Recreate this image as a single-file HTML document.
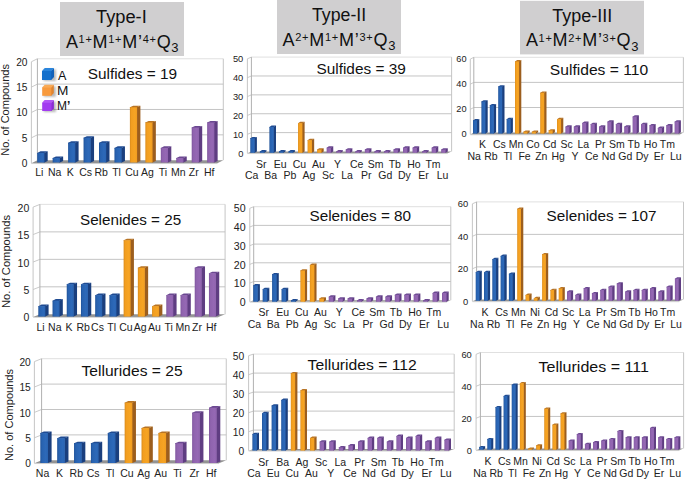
<!DOCTYPE html>
<html><head><meta charset="utf-8"><style>
html,body{margin:0;padding:0;background:#fff;}
svg{display:block;}
text{font-family:"Liberation Sans",sans-serif;fill:#1a1a1a;}
.tk{fill:#222;}
.xl{font-size:10.5px;fill:#222;}
.tt{font-size:15.5px;fill:#111;}
.yt{font-size:11px;fill:#222;}
.lg{font-size:12px;fill:#111;}
.hd{font-size:18px;fill:#111;}
.sup{font-size:11px;}
.sub{font-size:13px;}
</style></head><body>
<svg width="685" height="480" viewBox="0 0 685 480">
<defs>
<linearGradient id="gB" x1="0" y1="0" x2="1" y2="0"><stop offset="0" stop-color="#1f5299"/><stop offset="0.22" stop-color="#2862b0"/><stop offset="0.7" stop-color="#2d69b9"/><stop offset="1" stop-color="#2a63b0"/></linearGradient>
<linearGradient id="gO" x1="0" y1="0" x2="1" y2="0"><stop offset="0" stop-color="#d98b1c"/><stop offset="0.22" stop-color="#f29e20"/><stop offset="0.7" stop-color="#f6a424"/><stop offset="1" stop-color="#f09c20"/></linearGradient>
<linearGradient id="gP" x1="0" y1="0" x2="1" y2="0"><stop offset="0" stop-color="#7e559d"/><stop offset="0.22" stop-color="#8f63ae"/><stop offset="0.7" stop-color="#9568b4"/><stop offset="1" stop-color="#8e62ad"/></linearGradient>
<filter id="sh" x="-50%" y="-50%" width="200%" height="200%"><feGaussianBlur stdDeviation="0.9"/></filter></defs>
<rect width="685" height="480" fill="#fff"/>
<rect x="60" y="2" width="124" height="54" fill="#d0cfd0"/><text x="96" y="22.9" class="hd" textLength="50.8" lengthAdjust="spacingAndGlyphs">Type-I</text><text x="65.9" y="47.7" class="hd" textLength="112.7" lengthAdjust="spacing">A<tspan class="sup" dy="-4.8">1+</tspan><tspan dy="4.8">M</tspan><tspan class="sup" dy="-4.8">1+</tspan><tspan dy="4.8">M’</tspan><tspan class="sup" dy="-4.8">4+</tspan><tspan dy="4.8">Q</tspan><tspan class="sub" dy="4.5">3</tspan></text>
<rect x="277" y="0" width="124" height="54" fill="#d0cfd0"/><text x="312" y="20.9" class="hd" textLength="54.2" lengthAdjust="spacingAndGlyphs">Type-II</text><text x="282.5" y="45.9" class="hd" textLength="113" lengthAdjust="spacing">A<tspan class="sup" dy="-4.8">2+</tspan><tspan dy="4.8">M</tspan><tspan class="sup" dy="-4.8">1+</tspan><tspan dy="4.8">M’</tspan><tspan class="sup" dy="-4.8">3+</tspan><tspan dy="4.8">Q</tspan><tspan class="sub" dy="4.5">3</tspan></text>
<rect x="520" y="0.8" width="124" height="53.6" fill="#d0cfd0"/><text x="552.3" y="22" class="hd" textLength="59.9" lengthAdjust="spacingAndGlyphs">Type-III</text><text x="525.9" y="46.4" class="hd" textLength="112.6" lengthAdjust="spacing">A<tspan class="sup" dy="-4.8">1+</tspan><tspan dy="4.8">M</tspan><tspan class="sup" dy="-4.8">2+</tspan><tspan dy="4.8">M’</tspan><tspan class="sup" dy="-4.8">3+</tspan><tspan dy="4.8">Q</tspan><tspan class="sub" dy="4.5">3</tspan></text>
<polygon points="31.4,163.2 37.4,160.2 223.3,160.2 217.3,163.2" fill="#939393"/>
<line x1="31.4" y1="163.55" x2="217.3" y2="163.55" stroke="#c6c6c6" stroke-width="0.8"/>
<line x1="37.4" y1="134.84" x2="223.3" y2="134.84" stroke="#bdbdbd" stroke-width="0.9"/>
<line x1="31.4" y1="137.84" x2="37.4" y2="134.84" stroke="#c4c4c4" stroke-width="0.9"/>
<line x1="37.4" y1="109.47" x2="223.3" y2="109.47" stroke="#bdbdbd" stroke-width="0.9"/>
<line x1="31.4" y1="112.47" x2="37.4" y2="109.47" stroke="#c4c4c4" stroke-width="0.9"/>
<line x1="37.4" y1="84.11" x2="223.3" y2="84.11" stroke="#bdbdbd" stroke-width="0.9"/>
<line x1="31.4" y1="87.11" x2="37.4" y2="84.11" stroke="#c4c4c4" stroke-width="0.9"/>
<line x1="37.4" y1="58.75" x2="223.3" y2="58.75" stroke="#dcdcdc" stroke-width="0.9"/>
<line x1="31.4" y1="61.75" x2="37.4" y2="58.75" stroke="#c4c4c4" stroke-width="0.9"/>
<line x1="37.4" y1="58.75" x2="37.4" y2="160.2" stroke="#b0b0b0" stroke-width="1"/>
<line x1="31.4" y1="61.75" x2="31.4" y2="163.2" stroke="#c0c0c0" stroke-width="0.9"/>
<line x1="223.3" y1="58.75" x2="223.3" y2="160.2" stroke="#c0c0c0" stroke-width="0.9"/>
<text x="27.5" y="166.95" text-anchor="end" class="tk" font-size="10.2">0</text>
<text x="27.5" y="141.59" text-anchor="end" class="tk" font-size="10.2">5</text>
<text x="27.5" y="116.23" text-anchor="end" class="tk" font-size="10.2">10</text>
<text x="27.5" y="90.86" text-anchor="end" class="tk" font-size="10.2">15</text>
<text x="27.5" y="65.5" text-anchor="end" class="tk" font-size="10.2">20</text>
<text x="87.7" y="79" class="tt" textLength="89.3" lengthAdjust="spacingAndGlyphs">Sulfides = 19</text>
<polygon points="43.8,153.56 43.8,152.96 47.7,151.36 47.7,160.9 44.4,162.5 43.8,162.5" fill="#1a3f7e"/>
<polygon points="37.2,153.56 37.2,152.96 40.5,151.36 47.7,151.36 44.4,152.96 44.4,153.56" fill="#1f4b92"/>
<rect x="37.2" y="152.96" width="7.2" height="9.54" fill="url(#gB)"/>
<text x="39.3" y="176.35" text-anchor="middle" class="xl">Li</text>
<polygon points="59.25,158.63 59.25,158.03 63.15,156.43 63.15,160.9 59.85,162.5 59.25,162.5" fill="#1a3f7e"/>
<polygon points="52.65,158.63 52.65,158.03 55.95,156.43 63.15,156.43 59.85,158.03 59.85,158.63" fill="#1f4b92"/>
<rect x="52.65" y="158.03" width="7.2" height="4.47" fill="url(#gB)"/>
<text x="54.75" y="176.35" text-anchor="middle" class="xl">Na</text>
<polygon points="74.7,143.41 74.7,142.81 78.6,141.21 78.6,160.9 75.3,162.5 74.7,162.5" fill="#1a3f7e"/>
<polygon points="68.1,143.41 68.1,142.81 71.4,141.21 78.6,141.21 75.3,142.81 75.3,143.41" fill="#1f4b92"/>
<rect x="68.1" y="142.81" width="7.2" height="19.69" fill="url(#gB)"/>
<text x="70.2" y="176.35" text-anchor="middle" class="xl">K</text>
<polygon points="90.15,138.34 90.15,137.74 94.05,136.14 94.05,160.9 90.75,162.5 90.15,162.5" fill="#1a3f7e"/>
<polygon points="83.55,138.34 83.55,137.74 86.85,136.14 94.05,136.14 90.75,137.74 90.75,138.34" fill="#1f4b92"/>
<rect x="83.55" y="137.74" width="7.2" height="24.76" fill="url(#gB)"/>
<text x="85.65" y="176.35" text-anchor="middle" class="xl">Cs</text>
<polygon points="105.6,143.41 105.6,142.81 109.5,141.21 109.5,160.9 106.2,162.5 105.6,162.5" fill="#1a3f7e"/>
<polygon points="99,143.41 99,142.81 102.3,141.21 109.5,141.21 106.2,142.81 106.2,143.41" fill="#1f4b92"/>
<rect x="99" y="142.81" width="7.2" height="19.69" fill="url(#gB)"/>
<text x="101.1" y="176.35" text-anchor="middle" class="xl">Rb</text>
<polygon points="121.05,148.48 121.05,147.88 124.95,146.28 124.95,160.9 121.65,162.5 121.05,162.5" fill="#1a3f7e"/>
<polygon points="114.45,148.48 114.45,147.88 117.75,146.28 124.95,146.28 121.65,147.88 121.65,148.48" fill="#1f4b92"/>
<rect x="114.45" y="147.88" width="7.2" height="14.62" fill="url(#gB)"/>
<text x="116.55" y="176.35" text-anchor="middle" class="xl">Tl</text>
<polygon points="136.5,107.9 136.5,107.3 140.4,105.7 140.4,160.9 137.1,162.5 136.5,162.5" fill="#9c5e1e"/>
<polygon points="129.9,107.9 129.9,107.3 133.2,105.7 140.4,105.7 137.1,107.3 137.1,107.9" fill="#b87424"/>
<rect x="129.9" y="107.3" width="7.2" height="55.2" fill="url(#gO)"/>
<text x="132" y="176.35" text-anchor="middle" class="xl">Cu</text>
<polygon points="151.95,123.12 151.95,122.52 155.85,120.92 155.85,160.9 152.55,162.5 151.95,162.5" fill="#9c5e1e"/>
<polygon points="145.35,123.12 145.35,122.52 148.65,120.92 155.85,120.92 152.55,122.52 152.55,123.12" fill="#b87424"/>
<rect x="145.35" y="122.52" width="7.2" height="39.98" fill="url(#gO)"/>
<text x="147.45" y="176.35" text-anchor="middle" class="xl">Ag</text>
<polygon points="167.4,148.48 167.4,147.88 171.3,146.28 171.3,160.9 168,162.5 167.4,162.5" fill="#5f3d82"/>
<polygon points="160.8,148.48 160.8,147.88 164.1,146.28 171.3,146.28 168,147.88 168,148.48" fill="#6b4891"/>
<rect x="160.8" y="147.88" width="7.2" height="14.62" fill="url(#gP)"/>
<text x="162.9" y="176.35" text-anchor="middle" class="xl">Ti</text>
<polygon points="182.85,158.63 182.85,158.03 186.75,156.43 186.75,160.9 183.45,162.5 182.85,162.5" fill="#5f3d82"/>
<polygon points="176.25,158.63 176.25,158.03 179.55,156.43 186.75,156.43 183.45,158.03 183.45,158.63" fill="#6b4891"/>
<rect x="176.25" y="158.03" width="7.2" height="4.47" fill="url(#gP)"/>
<text x="178.35" y="176.35" text-anchor="middle" class="xl">Mn</text>
<polygon points="198.3,128.19 198.3,127.59 202.2,125.99 202.2,160.9 198.9,162.5 198.3,162.5" fill="#5f3d82"/>
<polygon points="191.7,128.19 191.7,127.59 195,125.99 202.2,125.99 198.9,127.59 198.9,128.19" fill="#6b4891"/>
<rect x="191.7" y="127.59" width="7.2" height="34.91" fill="url(#gP)"/>
<text x="193.8" y="176.35" text-anchor="middle" class="xl">Zr</text>
<polygon points="213.75,123.12 213.75,122.52 217.65,120.92 217.65,160.9 214.35,162.5 213.75,162.5" fill="#5f3d82"/>
<polygon points="207.15,123.12 207.15,122.52 210.45,120.92 217.65,120.92 214.35,122.52 214.35,123.12" fill="#6b4891"/>
<rect x="207.15" y="122.52" width="7.2" height="39.98" fill="url(#gP)"/>
<text x="209.25" y="176.35" text-anchor="middle" class="xl">Hf</text>
<polygon points="247.4,153.2 251.4,151.5 451.6,151.5 447.6,153.2" fill="#939393"/>
<line x1="247.4" y1="153.55" x2="447.6" y2="153.55" stroke="#c6c6c6" stroke-width="0.8"/>
<line x1="251.4" y1="132.62" x2="451.6" y2="132.62" stroke="#bdbdbd" stroke-width="0.9"/>
<line x1="247.4" y1="134.32" x2="251.4" y2="132.62" stroke="#c4c4c4" stroke-width="0.9"/>
<line x1="251.4" y1="113.74" x2="451.6" y2="113.74" stroke="#bdbdbd" stroke-width="0.9"/>
<line x1="247.4" y1="115.44" x2="251.4" y2="113.74" stroke="#c4c4c4" stroke-width="0.9"/>
<line x1="251.4" y1="94.86" x2="451.6" y2="94.86" stroke="#bdbdbd" stroke-width="0.9"/>
<line x1="247.4" y1="96.56" x2="251.4" y2="94.86" stroke="#c4c4c4" stroke-width="0.9"/>
<line x1="251.4" y1="75.98" x2="451.6" y2="75.98" stroke="#bdbdbd" stroke-width="0.9"/>
<line x1="247.4" y1="77.68" x2="251.4" y2="75.98" stroke="#c4c4c4" stroke-width="0.9"/>
<line x1="251.4" y1="57.1" x2="451.6" y2="57.1" stroke="#dcdcdc" stroke-width="0.9"/>
<line x1="247.4" y1="58.8" x2="251.4" y2="57.1" stroke="#c4c4c4" stroke-width="0.9"/>
<line x1="251.4" y1="57.1" x2="251.4" y2="151.5" stroke="#b0b0b0" stroke-width="1"/>
<line x1="247.4" y1="58.8" x2="247.4" y2="153.2" stroke="#c0c0c0" stroke-width="0.9"/>
<line x1="451.6" y1="57.1" x2="451.6" y2="151.5" stroke="#c0c0c0" stroke-width="0.9"/>
<text x="243.3" y="156.63" text-anchor="end" class="tk" font-size="9.3">0</text>
<text x="243.3" y="137.75" text-anchor="end" class="tk" font-size="9.3">10</text>
<text x="243.3" y="118.87" text-anchor="end" class="tk" font-size="9.3">20</text>
<text x="243.3" y="99.99" text-anchor="end" class="tk" font-size="9.3">30</text>
<text x="243.3" y="81.11" text-anchor="end" class="tk" font-size="9.3">40</text>
<text x="243.3" y="62.23" text-anchor="end" class="tk" font-size="9.3">50</text>
<text x="316.4" y="73.9" class="tt" textLength="89.4" lengthAdjust="spacingAndGlyphs">Sulfides = 39</text>
<polygon points="254.1,138.9 254.1,138.3 256.9,136.9 256.9,151.4 254.7,152.8 254.1,152.8" fill="#1a3f7e"/>
<polygon points="250.3,138.9 250.3,138.3 252.5,136.9 256.9,136.9 254.7,138.3 254.7,138.9" fill="#1f4b92"/>
<rect x="250.3" y="138.3" width="4.4" height="14.5" fill="url(#gB)"/>
<text x="251.65" y="179.1" text-anchor="middle" class="xl">Ca</text>
<polygon points="263.64,152.11 263.64,151.51 266.44,150.11 266.44,151.4 264.25,152.8 263.64,152.8" fill="#1a3f7e"/>
<polygon points="259.85,152.11 259.85,151.51 262.05,150.11 266.44,150.11 264.25,151.51 264.25,152.11" fill="#1f4b92"/>
<rect x="259.85" y="151.51" width="4.4" height="1.29" fill="url(#gB)"/>
<text x="261.19" y="167.7" text-anchor="middle" class="xl">Sr</text>
<polygon points="273.19,127.57 273.19,126.97 275.99,125.57 275.99,151.4 273.79,152.8 273.19,152.8" fill="#1a3f7e"/>
<polygon points="269.39,127.57 269.39,126.97 271.59,125.57 275.99,125.57 273.79,126.97 273.79,127.57" fill="#1f4b92"/>
<rect x="269.39" y="126.97" width="4.4" height="25.83" fill="url(#gB)"/>
<text x="270.74" y="179.1" text-anchor="middle" class="xl">Ba</text>
<polygon points="282.73,152.11 282.73,151.51 285.53,150.11 285.53,151.4 283.33,152.8 282.73,152.8" fill="#1a3f7e"/>
<polygon points="278.94,152.11 278.94,151.51 281.13,150.11 285.53,150.11 283.33,151.51 283.33,152.11" fill="#1f4b92"/>
<rect x="278.94" y="151.51" width="4.4" height="1.29" fill="url(#gB)"/>
<text x="280.28" y="167.7" text-anchor="middle" class="xl">Eu</text>
<polygon points="292.28,152.11 292.28,151.51 295.08,150.11 295.08,151.4 292.88,152.8 292.28,152.8" fill="#1a3f7e"/>
<polygon points="288.48,152.11 288.48,151.51 290.68,150.11 295.08,150.11 292.88,151.51 292.88,152.11" fill="#1f4b92"/>
<rect x="288.48" y="151.51" width="4.4" height="1.29" fill="url(#gB)"/>
<text x="289.83" y="179.1" text-anchor="middle" class="xl">Pb</text>
<polygon points="301.82,123.79 301.82,123.19 304.62,121.79 304.62,151.4 302.43,152.8 301.82,152.8" fill="#9c5e1e"/>
<polygon points="298.03,123.79 298.03,123.19 300.23,121.79 304.62,121.79 302.43,123.19 302.43,123.79" fill="#b87424"/>
<rect x="298.03" y="123.19" width="4.4" height="29.61" fill="url(#gO)"/>
<text x="299.38" y="167.7" text-anchor="middle" class="xl">Cu</text>
<polygon points="311.37,140.78 311.37,140.18 314.17,138.78 314.17,151.4 311.97,152.8 311.37,152.8" fill="#9c5e1e"/>
<polygon points="307.57,140.78 307.57,140.18 309.77,138.78 314.17,138.78 311.97,140.18 311.97,140.78" fill="#b87424"/>
<rect x="307.57" y="140.18" width="4.4" height="12.62" fill="url(#gO)"/>
<text x="308.92" y="179.1" text-anchor="middle" class="xl">Ag</text>
<polygon points="320.91,150.22 320.91,149.62 323.71,148.22 323.71,151.4 321.51,152.8 320.91,152.8" fill="#9c5e1e"/>
<polygon points="317.12,150.22 317.12,149.62 319.31,148.22 323.71,148.22 321.51,149.62 321.51,150.22" fill="#b87424"/>
<rect x="317.12" y="149.62" width="4.4" height="3.18" fill="url(#gO)"/>
<text x="318.46" y="167.7" text-anchor="middle" class="xl">Au</text>
<polygon points="330.46,148.34 330.46,147.74 333.26,146.34 333.26,151.4 331.06,152.8 330.46,152.8" fill="#5f3d82"/>
<polygon points="326.66,148.34 326.66,147.74 328.86,146.34 333.26,146.34 331.06,147.74 331.06,148.34" fill="#6b4891"/>
<rect x="326.66" y="147.74" width="4.4" height="5.06" fill="url(#gP)"/>
<text x="328.01" y="179.1" text-anchor="middle" class="xl">Sc</text>
<polygon points="340,152.11 340,151.51 342.81,150.11 342.81,151.4 340.61,152.8 340,152.8" fill="#5f3d82"/>
<polygon points="336.21,152.11 336.21,151.51 338.41,150.11 342.81,150.11 340.61,151.51 340.61,152.11" fill="#6b4891"/>
<rect x="336.21" y="151.51" width="4.4" height="1.29" fill="url(#gP)"/>
<text x="337.56" y="167.7" text-anchor="middle" class="xl">Y</text>
<polygon points="349.55,150.22 349.55,149.62 352.35,148.22 352.35,151.4 350.15,152.8 349.55,152.8" fill="#5f3d82"/>
<polygon points="345.75,150.22 345.75,149.62 347.95,148.22 352.35,148.22 350.15,149.62 350.15,150.22" fill="#6b4891"/>
<rect x="345.75" y="149.62" width="4.4" height="3.18" fill="url(#gP)"/>
<text x="347.1" y="179.1" text-anchor="middle" class="xl">La</text>
<polygon points="359.09,152.11 359.09,151.51 361.89,150.11 361.89,151.4 359.69,152.8 359.09,152.8" fill="#5f3d82"/>
<polygon points="355.3,152.11 355.3,151.51 357.5,150.11 361.89,150.11 359.69,151.51 359.69,152.11" fill="#6b4891"/>
<rect x="355.3" y="151.51" width="4.4" height="1.29" fill="url(#gP)"/>
<text x="356.64" y="167.7" text-anchor="middle" class="xl">Ce</text>
<polygon points="368.64,150.22 368.64,149.62 371.44,148.22 371.44,151.4 369.24,152.8 368.64,152.8" fill="#5f3d82"/>
<polygon points="364.84,150.22 364.84,149.62 367.04,148.22 371.44,148.22 369.24,149.62 369.24,150.22" fill="#6b4891"/>
<rect x="364.84" y="149.62" width="4.4" height="3.18" fill="url(#gP)"/>
<text x="366.19" y="179.1" text-anchor="middle" class="xl">Pr</text>
<polygon points="378.18,152.11 378.18,151.51 380.98,150.11 380.98,151.4 378.78,152.8 378.18,152.8" fill="#5f3d82"/>
<polygon points="374.38,152.11 374.38,151.51 376.58,150.11 380.98,150.11 378.78,151.51 378.78,152.11" fill="#6b4891"/>
<rect x="374.38" y="151.51" width="4.4" height="1.29" fill="url(#gP)"/>
<text x="375.73" y="167.7" text-anchor="middle" class="xl">Sm</text>
<polygon points="387.73,152.11 387.73,151.51 390.53,150.11 390.53,151.4 388.33,152.8 387.73,152.8" fill="#5f3d82"/>
<polygon points="383.93,152.11 383.93,151.51 386.13,150.11 390.53,150.11 388.33,151.51 388.33,152.11" fill="#6b4891"/>
<rect x="383.93" y="151.51" width="4.4" height="1.29" fill="url(#gP)"/>
<text x="385.28" y="179.1" text-anchor="middle" class="xl">Gd</text>
<polygon points="397.27,150.22 397.27,149.62 400.07,148.22 400.07,151.4 397.88,152.8 397.27,152.8" fill="#5f3d82"/>
<polygon points="393.48,150.22 393.48,149.62 395.68,148.22 400.07,148.22 397.88,149.62 397.88,150.22" fill="#6b4891"/>
<rect x="393.48" y="149.62" width="4.4" height="3.18" fill="url(#gP)"/>
<text x="394.82" y="167.7" text-anchor="middle" class="xl">Tb</text>
<polygon points="406.82,148.34 406.82,147.74 409.62,146.34 409.62,151.4 407.42,152.8 406.82,152.8" fill="#5f3d82"/>
<polygon points="403.02,148.34 403.02,147.74 405.22,146.34 409.62,146.34 407.42,147.74 407.42,148.34" fill="#6b4891"/>
<rect x="403.02" y="147.74" width="4.4" height="5.06" fill="url(#gP)"/>
<text x="404.37" y="179.1" text-anchor="middle" class="xl">Dy</text>
<polygon points="416.36,148.34 416.36,147.74 419.16,146.34 419.16,151.4 416.96,152.8 416.36,152.8" fill="#5f3d82"/>
<polygon points="412.56,148.34 412.56,147.74 414.76,146.34 419.16,146.34 416.96,147.74 416.96,148.34" fill="#6b4891"/>
<rect x="412.56" y="147.74" width="4.4" height="5.06" fill="url(#gP)"/>
<text x="413.91" y="167.7" text-anchor="middle" class="xl">Ho</text>
<polygon points="425.91,152.11 425.91,151.51 428.71,150.11 428.71,151.4 426.51,152.8 425.91,152.8" fill="#5f3d82"/>
<polygon points="422.11,152.11 422.11,151.51 424.31,150.11 428.71,150.11 426.51,151.51 426.51,152.11" fill="#6b4891"/>
<rect x="422.11" y="151.51" width="4.4" height="1.29" fill="url(#gP)"/>
<text x="423.46" y="179.1" text-anchor="middle" class="xl">Er</text>
<polygon points="435.45,148.34 435.45,147.74 438.25,146.34 438.25,151.4 436.05,152.8 435.45,152.8" fill="#5f3d82"/>
<polygon points="431.65,148.34 431.65,147.74 433.85,146.34 438.25,146.34 436.05,147.74 436.05,148.34" fill="#6b4891"/>
<rect x="431.65" y="147.74" width="4.4" height="5.06" fill="url(#gP)"/>
<text x="433" y="167.7" text-anchor="middle" class="xl">Tm</text>
<polygon points="445,150.22 445,149.62 447.8,148.22 447.8,151.4 445.6,152.8 445,152.8" fill="#5f3d82"/>
<polygon points="441.2,150.22 441.2,149.62 443.4,148.22 447.8,148.22 445.6,149.62 445.6,150.22" fill="#6b4891"/>
<rect x="441.2" y="149.62" width="4.4" height="3.18" fill="url(#gP)"/>
<text x="442.55" y="179.1" text-anchor="middle" class="xl">Lu</text>
<polygon points="470.3,134.4 473.8,132.6 683.4,132.6 679.9,134.4" fill="#939393"/>
<line x1="470.3" y1="134.75" x2="679.9" y2="134.75" stroke="#c6c6c6" stroke-width="0.8"/>
<line x1="473.8" y1="107.5" x2="683.4" y2="107.5" stroke="#bdbdbd" stroke-width="0.9"/>
<line x1="470.3" y1="109.3" x2="473.8" y2="107.5" stroke="#c4c4c4" stroke-width="0.9"/>
<line x1="473.8" y1="82.4" x2="683.4" y2="82.4" stroke="#bdbdbd" stroke-width="0.9"/>
<line x1="470.3" y1="84.2" x2="473.8" y2="82.4" stroke="#c4c4c4" stroke-width="0.9"/>
<line x1="473.8" y1="57.3" x2="683.4" y2="57.3" stroke="#dcdcdc" stroke-width="0.9"/>
<line x1="470.3" y1="59.1" x2="473.8" y2="57.3" stroke="#c4c4c4" stroke-width="0.9"/>
<line x1="473.8" y1="57.3" x2="473.8" y2="132.6" stroke="#b0b0b0" stroke-width="1"/>
<line x1="470.3" y1="59.1" x2="470.3" y2="134.4" stroke="#c0c0c0" stroke-width="0.9"/>
<line x1="683.4" y1="57.3" x2="683.4" y2="132.6" stroke="#c0c0c0" stroke-width="0.9"/>
<text x="466.5" y="137.19" text-anchor="end" class="tk" font-size="9.2">0</text>
<text x="466.5" y="112.09" text-anchor="end" class="tk" font-size="9.2">20</text>
<text x="466.5" y="86.99" text-anchor="end" class="tk" font-size="9.2">40</text>
<text x="466.5" y="61.89" text-anchor="end" class="tk" font-size="9.2">60</text>
<text x="549.8" y="75.1" class="tt" textLength="98.3" lengthAdjust="spacingAndGlyphs">Sulfides = 110</text>
<polygon points="476.5,120.99 476.5,120.39 479.3,119.09 479.3,132.3 477.1,133.6 476.5,133.6" fill="#1a3f7e"/>
<polygon points="473,120.99 473,120.39 475.2,119.09 479.3,119.09 477.1,120.39 477.1,120.99" fill="#1f4b92"/>
<rect x="473" y="120.39" width="4.1" height="13.21" fill="url(#gB)"/>
<text x="474.15" y="159.5" text-anchor="middle" class="xl">Na</text>
<polygon points="484.9,102.17 484.9,101.57 487.7,100.27 487.7,132.3 485.5,133.6 484.9,133.6" fill="#1a3f7e"/>
<polygon points="481.4,102.17 481.4,101.57 483.6,100.27 487.7,100.27 485.5,101.57 485.5,102.17" fill="#1f4b92"/>
<rect x="481.4" y="101.57" width="4.1" height="32.03" fill="url(#gB)"/>
<text x="482.55" y="147.6" text-anchor="middle" class="xl">K</text>
<polygon points="493.3,105.93 493.3,105.33 496.1,104.03 496.1,132.3 493.9,133.6 493.3,133.6" fill="#1a3f7e"/>
<polygon points="489.8,105.93 489.8,105.33 492,104.03 496.1,104.03 493.9,105.33 493.9,105.93" fill="#1f4b92"/>
<rect x="489.8" y="105.33" width="4.1" height="28.26" fill="url(#gB)"/>
<text x="490.95" y="159.5" text-anchor="middle" class="xl">Rb</text>
<polygon points="501.7,87.11 501.7,86.51 504.5,85.21 504.5,132.3 502.3,133.6 501.7,133.6" fill="#1a3f7e"/>
<polygon points="498.2,87.11 498.2,86.51 500.4,85.21 504.5,85.21 502.3,86.51 502.3,87.11" fill="#1f4b92"/>
<rect x="498.2" y="86.51" width="4.1" height="47.09" fill="url(#gB)"/>
<text x="499.35" y="147.6" text-anchor="middle" class="xl">Cs</text>
<polygon points="510.1,119.74 510.1,119.14 512.9,117.84 512.9,132.3 510.7,133.6 510.1,133.6" fill="#1a3f7e"/>
<polygon points="506.6,119.74 506.6,119.14 508.8,117.84 512.9,117.84 510.7,119.14 510.7,119.74" fill="#1f4b92"/>
<rect x="506.6" y="119.14" width="4.1" height="14.46" fill="url(#gB)"/>
<text x="507.75" y="159.5" text-anchor="middle" class="xl">Tl</text>
<polygon points="518.5,62.01 518.5,61.41 521.3,60.11 521.3,132.3 519.1,133.6 518.5,133.6" fill="#9c5e1e"/>
<polygon points="515,62.01 515,61.41 517.2,60.11 521.3,60.11 519.1,61.41 519.1,62.01" fill="#b87424"/>
<rect x="515" y="61.41" width="4.1" height="72.19" fill="url(#gO)"/>
<text x="516.15" y="147.6" text-anchor="middle" class="xl">Mn</text>
<polygon points="526.9,132.29 526.9,131.69 529.7,130.39 529.7,132.3 527.5,133.6 526.9,133.6" fill="#9c5e1e"/>
<polygon points="523.4,132.29 523.4,131.69 525.6,130.39 529.7,130.39 527.5,131.69 527.5,132.29" fill="#b87424"/>
<rect x="523.4" y="131.69" width="4.1" height="1.91" fill="url(#gO)"/>
<text x="524.55" y="159.5" text-anchor="middle" class="xl">Fe</text>
<polygon points="535.3,132.29 535.3,131.69 538.1,130.39 538.1,132.3 535.9,133.6 535.3,133.6" fill="#9c5e1e"/>
<polygon points="531.8,132.29 531.8,131.69 534,130.39 538.1,130.39 535.9,131.69 535.9,132.29" fill="#b87424"/>
<rect x="531.8" y="131.69" width="4.1" height="1.91" fill="url(#gO)"/>
<text x="532.95" y="147.6" text-anchor="middle" class="xl">Co</text>
<polygon points="543.7,93.38 543.7,92.78 546.5,91.48 546.5,132.3 544.3,133.6 543.7,133.6" fill="#9c5e1e"/>
<polygon points="540.2,93.38 540.2,92.78 542.4,91.48 546.5,91.48 544.3,92.78 544.3,93.38" fill="#b87424"/>
<rect x="540.2" y="92.78" width="4.1" height="40.81" fill="url(#gO)"/>
<text x="541.35" y="159.5" text-anchor="middle" class="xl">Zn</text>
<polygon points="552.1,131.03 552.1,130.44 554.9,129.13 554.9,132.3 552.7,133.6 552.1,133.6" fill="#9c5e1e"/>
<polygon points="548.6,131.03 548.6,130.44 550.8,129.13 554.9,129.13 552.7,130.44 552.7,131.03" fill="#b87424"/>
<rect x="548.6" y="130.44" width="4.1" height="3.16" fill="url(#gO)"/>
<text x="549.75" y="147.6" text-anchor="middle" class="xl">Cd</text>
<polygon points="560.5,119.74 560.5,119.14 563.3,117.84 563.3,132.3 561.1,133.6 560.5,133.6" fill="#9c5e1e"/>
<polygon points="557,119.74 557,119.14 559.2,117.84 563.3,117.84 561.1,119.14 561.1,119.74" fill="#b87424"/>
<rect x="557" y="119.14" width="4.1" height="14.46" fill="url(#gO)"/>
<text x="558.15" y="159.5" text-anchor="middle" class="xl">Hg</text>
<polygon points="568.9,127.27 568.9,126.67 571.7,125.37 571.7,132.3 569.5,133.6 568.9,133.6" fill="#5f3d82"/>
<polygon points="565.4,127.27 565.4,126.67 567.6,125.37 571.7,125.37 569.5,126.67 569.5,127.27" fill="#6b4891"/>
<rect x="565.4" y="126.67" width="4.1" height="6.93" fill="url(#gP)"/>
<text x="566.55" y="147.6" text-anchor="middle" class="xl">Sc</text>
<polygon points="577.3,127.27 577.3,126.67 580.1,125.37 580.1,132.3 577.9,133.6 577.3,133.6" fill="#5f3d82"/>
<polygon points="573.8,127.27 573.8,126.67 576,125.37 580.1,125.37 577.9,126.67 577.9,127.27" fill="#6b4891"/>
<rect x="573.8" y="126.67" width="4.1" height="6.93" fill="url(#gP)"/>
<text x="574.95" y="159.5" text-anchor="middle" class="xl">Y</text>
<polygon points="585.7,123.5 585.7,122.91 588.5,121.61 588.5,132.3 586.3,133.6 585.7,133.6" fill="#5f3d82"/>
<polygon points="582.2,123.5 582.2,122.91 584.4,121.61 588.5,121.61 586.3,122.91 586.3,123.5" fill="#6b4891"/>
<rect x="582.2" y="122.91" width="4.1" height="10.69" fill="url(#gP)"/>
<text x="583.35" y="147.6" text-anchor="middle" class="xl">La</text>
<polygon points="594.1,124.76 594.1,124.16 596.9,122.86 596.9,132.3 594.7,133.6 594.1,133.6" fill="#5f3d82"/>
<polygon points="590.6,124.76 590.6,124.16 592.8,122.86 596.9,122.86 594.7,124.16 594.7,124.76" fill="#6b4891"/>
<rect x="590.6" y="124.16" width="4.1" height="9.44" fill="url(#gP)"/>
<text x="591.75" y="159.5" text-anchor="middle" class="xl">Ce</text>
<polygon points="602.5,127.27 602.5,126.67 605.3,125.37 605.3,132.3 603.1,133.6 602.5,133.6" fill="#5f3d82"/>
<polygon points="599,127.27 599,126.67 601.2,125.37 605.3,125.37 603.1,126.67 603.1,127.27" fill="#6b4891"/>
<rect x="599" y="126.67" width="4.1" height="6.93" fill="url(#gP)"/>
<text x="600.15" y="147.6" text-anchor="middle" class="xl">Pr</text>
<polygon points="610.9,122.25 610.9,121.65 613.7,120.35 613.7,132.3 611.5,133.6 610.9,133.6" fill="#5f3d82"/>
<polygon points="607.4,122.25 607.4,121.65 609.6,120.35 613.7,120.35 611.5,121.65 611.5,122.25" fill="#6b4891"/>
<rect x="607.4" y="121.65" width="4.1" height="11.95" fill="url(#gP)"/>
<text x="608.55" y="159.5" text-anchor="middle" class="xl">Nd</text>
<polygon points="619.3,124.76 619.3,124.16 622.1,122.86 622.1,132.3 619.9,133.6 619.3,133.6" fill="#5f3d82"/>
<polygon points="615.8,124.76 615.8,124.16 618,122.86 622.1,122.86 619.9,124.16 619.9,124.76" fill="#6b4891"/>
<rect x="615.8" y="124.16" width="4.1" height="9.44" fill="url(#gP)"/>
<text x="616.95" y="147.6" text-anchor="middle" class="xl">Sm</text>
<polygon points="627.7,127.27 627.7,126.67 630.5,125.37 630.5,132.3 628.3,133.6 627.7,133.6" fill="#5f3d82"/>
<polygon points="624.2,127.27 624.2,126.67 626.4,125.37 630.5,125.37 628.3,126.67 628.3,127.27" fill="#6b4891"/>
<rect x="624.2" y="126.67" width="4.1" height="6.93" fill="url(#gP)"/>
<text x="625.35" y="159.5" text-anchor="middle" class="xl">Gd</text>
<polygon points="636.1,117.23 636.1,116.63 638.9,115.33 638.9,132.3 636.7,133.6 636.1,133.6" fill="#5f3d82"/>
<polygon points="632.6,117.23 632.6,116.63 634.8,115.33 638.9,115.33 636.7,116.63 636.7,117.23" fill="#6b4891"/>
<rect x="632.6" y="116.63" width="4.1" height="16.97" fill="url(#gP)"/>
<text x="633.75" y="147.6" text-anchor="middle" class="xl">Tb</text>
<polygon points="644.5,124.76 644.5,124.16 647.3,122.86 647.3,132.3 645.1,133.6 644.5,133.6" fill="#5f3d82"/>
<polygon points="641,124.76 641,124.16 643.2,122.86 647.3,122.86 645.1,124.16 645.1,124.76" fill="#6b4891"/>
<rect x="641" y="124.16" width="4.1" height="9.44" fill="url(#gP)"/>
<text x="642.15" y="159.5" text-anchor="middle" class="xl">Dy</text>
<polygon points="652.9,126.01 652.9,125.41 655.7,124.11 655.7,132.3 653.5,133.6 652.9,133.6" fill="#5f3d82"/>
<polygon points="649.4,126.01 649.4,125.41 651.6,124.11 655.7,124.11 653.5,125.41 653.5,126.01" fill="#6b4891"/>
<rect x="649.4" y="125.41" width="4.1" height="8.19" fill="url(#gP)"/>
<text x="650.55" y="147.6" text-anchor="middle" class="xl">Ho</text>
<polygon points="661.3,128.53 661.3,127.92 664.1,126.62 664.1,132.3 661.9,133.6 661.3,133.6" fill="#5f3d82"/>
<polygon points="657.8,128.53 657.8,127.92 660,126.62 664.1,126.62 661.9,127.92 661.9,128.53" fill="#6b4891"/>
<rect x="657.8" y="127.92" width="4.1" height="5.67" fill="url(#gP)"/>
<text x="658.95" y="159.5" text-anchor="middle" class="xl">Er</text>
<polygon points="669.7,126.01 669.7,125.41 672.5,124.11 672.5,132.3 670.3,133.6 669.7,133.6" fill="#5f3d82"/>
<polygon points="666.2,126.01 666.2,125.41 668.4,124.11 672.5,124.11 670.3,125.41 670.3,126.01" fill="#6b4891"/>
<rect x="666.2" y="125.41" width="4.1" height="8.19" fill="url(#gP)"/>
<text x="667.35" y="147.6" text-anchor="middle" class="xl">Tm</text>
<polygon points="678.1,122.25 678.1,121.65 680.9,120.35 680.9,132.3 678.7,133.6 678.1,133.6" fill="#5f3d82"/>
<polygon points="674.6,122.25 674.6,121.65 676.8,120.35 680.9,120.35 678.7,121.65 678.7,122.25" fill="#6b4891"/>
<rect x="674.6" y="121.65" width="4.1" height="11.95" fill="url(#gP)"/>
<text x="675.75" y="159.5" text-anchor="middle" class="xl">Lu</text>
<polygon points="33.1,317 39.9,314.3 225.1,314.3 218.3,317" fill="#939393"/>
<line x1="33.1" y1="317.35" x2="218.3" y2="317.35" stroke="#c6c6c6" stroke-width="0.8"/>
<line x1="39.9" y1="286.82" x2="225.1" y2="286.82" stroke="#bdbdbd" stroke-width="0.9"/>
<line x1="33.1" y1="289.52" x2="39.9" y2="286.82" stroke="#c4c4c4" stroke-width="0.9"/>
<line x1="39.9" y1="259.35" x2="225.1" y2="259.35" stroke="#bdbdbd" stroke-width="0.9"/>
<line x1="33.1" y1="262.05" x2="39.9" y2="259.35" stroke="#c4c4c4" stroke-width="0.9"/>
<line x1="39.9" y1="231.88" x2="225.1" y2="231.88" stroke="#bdbdbd" stroke-width="0.9"/>
<line x1="33.1" y1="234.57" x2="39.9" y2="231.88" stroke="#c4c4c4" stroke-width="0.9"/>
<line x1="39.9" y1="204.4" x2="225.1" y2="204.4" stroke="#dcdcdc" stroke-width="0.9"/>
<line x1="33.1" y1="207.1" x2="39.9" y2="204.4" stroke="#c4c4c4" stroke-width="0.9"/>
<line x1="39.9" y1="204.4" x2="39.9" y2="314.3" stroke="#b0b0b0" stroke-width="1"/>
<line x1="33.1" y1="207.1" x2="33.1" y2="317" stroke="#c0c0c0" stroke-width="0.9"/>
<line x1="225.1" y1="204.4" x2="225.1" y2="314.3" stroke="#c0c0c0" stroke-width="0.9"/>
<text x="29.3" y="321.46" text-anchor="end" class="tk" font-size="10.5">0</text>
<text x="29.3" y="293.98" text-anchor="end" class="tk" font-size="10.5">5</text>
<text x="29.3" y="266.51" text-anchor="end" class="tk" font-size="10.5">10</text>
<text x="29.3" y="239.03" text-anchor="end" class="tk" font-size="10.5">15</text>
<text x="29.3" y="211.56" text-anchor="end" class="tk" font-size="10.5">20</text>
<text x="80" y="224.7" class="tt" textLength="101.1" lengthAdjust="spacingAndGlyphs">Selenides = 25</text>
<polygon points="44.7,306.81 44.7,306.21 48.6,304.61 48.6,315 45.3,316.6 44.7,316.6" fill="#1a3f7e"/>
<polygon points="38.3,306.81 38.3,306.21 41.6,304.61 48.6,304.61 45.3,306.21 45.3,306.81" fill="#1f4b92"/>
<rect x="38.3" y="306.21" width="7" height="10.39" fill="url(#gB)"/>
<text x="40.6" y="330.8" text-anchor="middle" class="xl">Li</text>
<polygon points="58.92,301.32 58.92,300.72 62.82,299.12 62.82,315 59.52,316.6 58.92,316.6" fill="#1a3f7e"/>
<polygon points="52.52,301.32 52.52,300.72 55.82,299.12 62.82,299.12 59.52,300.72 59.52,301.32" fill="#1f4b92"/>
<rect x="52.52" y="300.72" width="7" height="15.88" fill="url(#gB)"/>
<text x="54.82" y="330.8" text-anchor="middle" class="xl">Na</text>
<polygon points="73.14,284.83 73.14,284.23 77.04,282.63 77.04,315 73.74,316.6 73.14,316.6" fill="#1a3f7e"/>
<polygon points="66.74,284.83 66.74,284.23 70.04,282.63 77.04,282.63 73.74,284.23 73.74,284.83" fill="#1f4b92"/>
<rect x="66.74" y="284.23" width="7" height="32.37" fill="url(#gB)"/>
<text x="69.04" y="330.8" text-anchor="middle" class="xl">K</text>
<polygon points="87.36,284.83 87.36,284.23 91.26,282.63 91.26,315 87.96,316.6 87.36,316.6" fill="#1a3f7e"/>
<polygon points="80.96,284.83 80.96,284.23 84.26,282.63 91.26,282.63 87.96,284.23 87.96,284.83" fill="#1f4b92"/>
<rect x="80.96" y="284.23" width="7" height="32.37" fill="url(#gB)"/>
<text x="83.26" y="330.8" text-anchor="middle" class="xl">Rb</text>
<polygon points="101.58,295.82 101.58,295.22 105.48,293.62 105.48,315 102.18,316.6 101.58,316.6" fill="#1a3f7e"/>
<polygon points="95.18,295.82 95.18,295.22 98.48,293.62 105.48,293.62 102.18,295.22 102.18,295.82" fill="#1f4b92"/>
<rect x="95.18" y="295.22" width="7" height="21.38" fill="url(#gB)"/>
<text x="97.48" y="330.8" text-anchor="middle" class="xl">Cs</text>
<polygon points="115.8,295.82 115.8,295.22 119.7,293.62 119.7,315 116.4,316.6 115.8,316.6" fill="#1a3f7e"/>
<polygon points="109.4,295.82 109.4,295.22 112.7,293.62 119.7,293.62 116.4,295.22 116.4,295.82" fill="#1f4b92"/>
<rect x="109.4" y="295.22" width="7" height="21.38" fill="url(#gB)"/>
<text x="111.7" y="330.8" text-anchor="middle" class="xl">Tl</text>
<polygon points="130.02,240.87 130.02,240.27 133.92,238.67 133.92,315 130.62,316.6 130.02,316.6" fill="#9c5e1e"/>
<polygon points="123.62,240.87 123.62,240.27 126.92,238.67 133.92,238.67 130.62,240.27 130.62,240.87" fill="#b87424"/>
<rect x="123.62" y="240.27" width="7" height="76.33" fill="url(#gO)"/>
<text x="125.92" y="330.8" text-anchor="middle" class="xl">Cu</text>
<polygon points="144.24,268.35 144.24,267.75 148.14,266.14 148.14,315 144.84,316.6 144.24,316.6" fill="#9c5e1e"/>
<polygon points="137.84,268.35 137.84,267.75 141.14,266.14 148.14,266.14 144.84,267.75 144.84,268.35" fill="#b87424"/>
<rect x="137.84" y="267.75" width="7" height="48.85" fill="url(#gO)"/>
<text x="140.14" y="330.8" text-anchor="middle" class="xl">Ag</text>
<polygon points="158.46,306.81 158.46,306.21 162.36,304.61 162.36,315 159.06,316.6 158.46,316.6" fill="#9c5e1e"/>
<polygon points="152.06,306.81 152.06,306.21 155.36,304.61 162.36,304.61 159.06,306.21 159.06,306.81" fill="#b87424"/>
<rect x="152.06" y="306.21" width="7" height="10.39" fill="url(#gO)"/>
<text x="154.36" y="330.8" text-anchor="middle" class="xl">Au</text>
<polygon points="172.68,295.82 172.68,295.22 176.58,293.62 176.58,315 173.28,316.6 172.68,316.6" fill="#5f3d82"/>
<polygon points="166.28,295.82 166.28,295.22 169.58,293.62 176.58,293.62 173.28,295.22 173.28,295.82" fill="#6b4891"/>
<rect x="166.28" y="295.22" width="7" height="21.38" fill="url(#gP)"/>
<text x="168.58" y="330.8" text-anchor="middle" class="xl">Ti</text>
<polygon points="186.9,295.82 186.9,295.22 190.8,293.62 190.8,315 187.5,316.6 186.9,316.6" fill="#5f3d82"/>
<polygon points="180.5,295.82 180.5,295.22 183.8,293.62 190.8,293.62 187.5,295.22 187.5,295.82" fill="#6b4891"/>
<rect x="180.5" y="295.22" width="7" height="21.38" fill="url(#gP)"/>
<text x="182.8" y="330.8" text-anchor="middle" class="xl">Mn</text>
<polygon points="201.12,268.35 201.12,267.75 205.02,266.14 205.02,315 201.72,316.6 201.12,316.6" fill="#5f3d82"/>
<polygon points="194.72,268.35 194.72,267.75 198.02,266.14 205.02,266.14 201.72,267.75 201.72,268.35" fill="#6b4891"/>
<rect x="194.72" y="267.75" width="7" height="48.85" fill="url(#gP)"/>
<text x="197.02" y="330.8" text-anchor="middle" class="xl">Zr</text>
<polygon points="215.34,273.84 215.34,273.24 219.24,271.64 219.24,315 215.94,316.6 215.34,316.6" fill="#5f3d82"/>
<polygon points="208.94,273.84 208.94,273.24 212.24,271.64 219.24,271.64 215.94,273.24 215.94,273.84" fill="#6b4891"/>
<rect x="208.94" y="273.24" width="7" height="43.36" fill="url(#gP)"/>
<text x="211.24" y="330.8" text-anchor="middle" class="xl">Hf</text>
<polygon points="249.8,301.8 253.7,300.2 450.8,300.2 446.9,301.8" fill="#939393"/>
<line x1="249.8" y1="302.15" x2="446.9" y2="302.15" stroke="#c6c6c6" stroke-width="0.8"/>
<line x1="253.7" y1="281.5" x2="450.8" y2="281.5" stroke="#bdbdbd" stroke-width="0.9"/>
<line x1="249.8" y1="283.1" x2="253.7" y2="281.5" stroke="#c4c4c4" stroke-width="0.9"/>
<line x1="253.7" y1="262.8" x2="450.8" y2="262.8" stroke="#bdbdbd" stroke-width="0.9"/>
<line x1="249.8" y1="264.4" x2="253.7" y2="262.8" stroke="#c4c4c4" stroke-width="0.9"/>
<line x1="253.7" y1="244.1" x2="450.8" y2="244.1" stroke="#bdbdbd" stroke-width="0.9"/>
<line x1="249.8" y1="245.7" x2="253.7" y2="244.1" stroke="#c4c4c4" stroke-width="0.9"/>
<line x1="253.7" y1="225.4" x2="450.8" y2="225.4" stroke="#bdbdbd" stroke-width="0.9"/>
<line x1="249.8" y1="227" x2="253.7" y2="225.4" stroke="#c4c4c4" stroke-width="0.9"/>
<line x1="253.7" y1="206.7" x2="450.8" y2="206.7" stroke="#dcdcdc" stroke-width="0.9"/>
<line x1="249.8" y1="208.3" x2="253.7" y2="206.7" stroke="#c4c4c4" stroke-width="0.9"/>
<line x1="253.7" y1="206.7" x2="253.7" y2="300.2" stroke="#b0b0b0" stroke-width="1"/>
<line x1="249.8" y1="208.3" x2="249.8" y2="301.8" stroke="#c0c0c0" stroke-width="0.9"/>
<line x1="450.8" y1="206.7" x2="450.8" y2="300.2" stroke="#c0c0c0" stroke-width="0.9"/>
<text x="245.6" y="305.99" text-anchor="end" class="tk" font-size="10.6">0</text>
<text x="245.6" y="287.29" text-anchor="end" class="tk" font-size="10.6">10</text>
<text x="245.6" y="268.59" text-anchor="end" class="tk" font-size="10.6">20</text>
<text x="245.6" y="249.89" text-anchor="end" class="tk" font-size="10.6">30</text>
<text x="245.6" y="231.19" text-anchor="end" class="tk" font-size="10.6">40</text>
<text x="245.6" y="212.49" text-anchor="end" class="tk" font-size="10.6">50</text>
<text x="309.5" y="220.9" class="tt" textLength="101.6" lengthAdjust="spacingAndGlyphs">Selenides = 80</text>
<polygon points="257.2,286.12 257.2,285.52 259.9,284.12 259.9,300.35 257.8,301.75 257.2,301.75" fill="#1a3f7e"/>
<polygon points="253.2,286.12 253.2,285.52 255.3,284.12 259.9,284.12 257.8,285.52 257.8,286.12" fill="#1f4b92"/>
<rect x="253.2" y="285.52" width="4.6" height="16.23" fill="url(#gB)"/>
<text x="254.4" y="327.6" text-anchor="middle" class="xl">Ca</text>
<polygon points="266.64,289.86 266.64,289.26 269.34,287.86 269.34,300.35 267.24,301.75 266.64,301.75" fill="#1a3f7e"/>
<polygon points="262.64,289.86 262.64,289.26 264.74,287.86 269.34,287.86 267.24,289.26 267.24,289.86" fill="#1f4b92"/>
<rect x="262.64" y="289.26" width="4.6" height="12.49" fill="url(#gB)"/>
<text x="263.84" y="315.9" text-anchor="middle" class="xl">Sr</text>
<polygon points="276.08,274.9 276.08,274.3 278.78,272.9 278.78,300.35 276.68,301.75 276.08,301.75" fill="#1a3f7e"/>
<polygon points="272.08,274.9 272.08,274.3 274.18,272.9 278.78,272.9 276.68,274.3 276.68,274.9" fill="#1f4b92"/>
<rect x="272.08" y="274.3" width="4.6" height="27.45" fill="url(#gB)"/>
<text x="273.28" y="327.6" text-anchor="middle" class="xl">Ba</text>
<polygon points="285.52,289.86 285.52,289.26 288.22,287.86 288.22,300.35 286.12,301.75 285.52,301.75" fill="#1a3f7e"/>
<polygon points="281.52,289.86 281.52,289.26 283.62,287.86 288.22,287.86 286.12,289.26 286.12,289.86" fill="#1f4b92"/>
<rect x="281.52" y="289.26" width="4.6" height="12.49" fill="url(#gB)"/>
<text x="282.72" y="315.9" text-anchor="middle" class="xl">Eu</text>
<polygon points="294.96,301.08 294.96,300.48 297.66,299.08 297.66,300.35 295.56,301.75 294.96,301.75" fill="#1a3f7e"/>
<polygon points="290.96,301.08 290.96,300.48 293.06,299.08 297.66,299.08 295.56,300.48 295.56,301.08" fill="#1f4b92"/>
<rect x="290.96" y="300.48" width="4.6" height="1.27" fill="url(#gB)"/>
<text x="292.16" y="327.6" text-anchor="middle" class="xl">Pb</text>
<polygon points="304.4,271.16 304.4,270.56 307.1,269.16 307.1,300.35 305,301.75 304.4,301.75" fill="#9c5e1e"/>
<polygon points="300.4,271.16 300.4,270.56 302.5,269.16 307.1,269.16 305,270.56 305,271.16" fill="#b87424"/>
<rect x="300.4" y="270.56" width="4.6" height="31.19" fill="url(#gO)"/>
<text x="301.6" y="315.9" text-anchor="middle" class="xl">Cu</text>
<polygon points="313.84,265.55 313.84,264.95 316.54,263.55 316.54,300.35 314.44,301.75 313.84,301.75" fill="#9c5e1e"/>
<polygon points="309.84,265.55 309.84,264.95 311.94,263.55 316.54,263.55 314.44,264.95 314.44,265.55" fill="#b87424"/>
<rect x="309.84" y="264.95" width="4.6" height="36.8" fill="url(#gO)"/>
<text x="311.04" y="327.6" text-anchor="middle" class="xl">Ag</text>
<polygon points="323.28,299.21 323.28,298.61 325.98,297.21 325.98,300.35 323.88,301.75 323.28,301.75" fill="#9c5e1e"/>
<polygon points="319.28,299.21 319.28,298.61 321.38,297.21 325.98,297.21 323.88,298.61 323.88,299.21" fill="#b87424"/>
<rect x="319.28" y="298.61" width="4.6" height="3.14" fill="url(#gO)"/>
<text x="320.48" y="315.9" text-anchor="middle" class="xl">Au</text>
<polygon points="332.72,297.34 332.72,296.74 335.42,295.34 335.42,300.35 333.32,301.75 332.72,301.75" fill="#5f3d82"/>
<polygon points="328.72,297.34 328.72,296.74 330.82,295.34 335.42,295.34 333.32,296.74 333.32,297.34" fill="#6b4891"/>
<rect x="328.72" y="296.74" width="4.6" height="5.01" fill="url(#gP)"/>
<text x="329.92" y="327.6" text-anchor="middle" class="xl">Sc</text>
<polygon points="342.16,299.21 342.16,298.61 344.86,297.21 344.86,300.35 342.76,301.75 342.16,301.75" fill="#5f3d82"/>
<polygon points="338.16,299.21 338.16,298.61 340.26,297.21 344.86,297.21 342.76,298.61 342.76,299.21" fill="#6b4891"/>
<rect x="338.16" y="298.61" width="4.6" height="3.14" fill="url(#gP)"/>
<text x="339.36" y="315.9" text-anchor="middle" class="xl">Y</text>
<polygon points="351.6,299.21 351.6,298.61 354.3,297.21 354.3,300.35 352.2,301.75 351.6,301.75" fill="#5f3d82"/>
<polygon points="347.6,299.21 347.6,298.61 349.7,297.21 354.3,297.21 352.2,298.61 352.2,299.21" fill="#6b4891"/>
<rect x="347.6" y="298.61" width="4.6" height="3.14" fill="url(#gP)"/>
<text x="348.8" y="327.6" text-anchor="middle" class="xl">La</text>
<polygon points="361.04,301.08 361.04,300.48 363.74,299.08 363.74,300.35 361.64,301.75 361.04,301.75" fill="#5f3d82"/>
<polygon points="357.04,301.08 357.04,300.48 359.14,299.08 363.74,299.08 361.64,300.48 361.64,301.08" fill="#6b4891"/>
<rect x="357.04" y="300.48" width="4.6" height="1.27" fill="url(#gP)"/>
<text x="358.24" y="315.9" text-anchor="middle" class="xl">Ce</text>
<polygon points="370.48,299.21 370.48,298.61 373.18,297.21 373.18,300.35 371.08,301.75 370.48,301.75" fill="#5f3d82"/>
<polygon points="366.48,299.21 366.48,298.61 368.58,297.21 373.18,297.21 371.08,298.61 371.08,299.21" fill="#6b4891"/>
<rect x="366.48" y="298.61" width="4.6" height="3.14" fill="url(#gP)"/>
<text x="367.68" y="327.6" text-anchor="middle" class="xl">Pr</text>
<polygon points="379.92,297.34 379.92,296.74 382.62,295.34 382.62,300.35 380.52,301.75 379.92,301.75" fill="#5f3d82"/>
<polygon points="375.92,297.34 375.92,296.74 378.02,295.34 382.62,295.34 380.52,296.74 380.52,297.34" fill="#6b4891"/>
<rect x="375.92" y="296.74" width="4.6" height="5.01" fill="url(#gP)"/>
<text x="377.12" y="315.9" text-anchor="middle" class="xl">Sm</text>
<polygon points="389.36,297.34 389.36,296.74 392.06,295.34 392.06,300.35 389.96,301.75 389.36,301.75" fill="#5f3d82"/>
<polygon points="385.36,297.34 385.36,296.74 387.46,295.34 392.06,295.34 389.96,296.74 389.96,297.34" fill="#6b4891"/>
<rect x="385.36" y="296.74" width="4.6" height="5.01" fill="url(#gP)"/>
<text x="386.56" y="327.6" text-anchor="middle" class="xl">Gd</text>
<polygon points="398.8,295.47 398.8,294.87 401.5,293.47 401.5,300.35 399.4,301.75 398.8,301.75" fill="#5f3d82"/>
<polygon points="394.8,295.47 394.8,294.87 396.9,293.47 401.5,293.47 399.4,294.87 399.4,295.47" fill="#6b4891"/>
<rect x="394.8" y="294.87" width="4.6" height="6.88" fill="url(#gP)"/>
<text x="396" y="315.9" text-anchor="middle" class="xl">Tb</text>
<polygon points="408.24,295.47 408.24,294.87 410.94,293.47 410.94,300.35 408.84,301.75 408.24,301.75" fill="#5f3d82"/>
<polygon points="404.24,295.47 404.24,294.87 406.34,293.47 410.94,293.47 408.84,294.87 408.84,295.47" fill="#6b4891"/>
<rect x="404.24" y="294.87" width="4.6" height="6.88" fill="url(#gP)"/>
<text x="405.44" y="327.6" text-anchor="middle" class="xl">Dy</text>
<polygon points="417.68,295.47 417.68,294.87 420.38,293.47 420.38,300.35 418.28,301.75 417.68,301.75" fill="#5f3d82"/>
<polygon points="413.68,295.47 413.68,294.87 415.78,293.47 420.38,293.47 418.28,294.87 418.28,295.47" fill="#6b4891"/>
<rect x="413.68" y="294.87" width="4.6" height="6.88" fill="url(#gP)"/>
<text x="414.88" y="315.9" text-anchor="middle" class="xl">Ho</text>
<polygon points="427.12,301.08 427.12,300.48 429.82,299.08 429.82,300.35 427.72,301.75 427.12,301.75" fill="#5f3d82"/>
<polygon points="423.12,301.08 423.12,300.48 425.22,299.08 429.82,299.08 427.72,300.48 427.72,301.08" fill="#6b4891"/>
<rect x="423.12" y="300.48" width="4.6" height="1.27" fill="url(#gP)"/>
<text x="424.32" y="327.6" text-anchor="middle" class="xl">Er</text>
<polygon points="436.56,293.6 436.56,293 439.26,291.6 439.26,300.35 437.16,301.75 436.56,301.75" fill="#5f3d82"/>
<polygon points="432.56,293.6 432.56,293 434.66,291.6 439.26,291.6 437.16,293 437.16,293.6" fill="#6b4891"/>
<rect x="432.56" y="293" width="4.6" height="8.75" fill="url(#gP)"/>
<text x="433.76" y="315.9" text-anchor="middle" class="xl">Tm</text>
<polygon points="446,293.6 446,293 448.7,291.6 448.7,300.35 446.6,301.75 446,301.75" fill="#5f3d82"/>
<polygon points="442,293.6 442,293 444.1,291.6 448.7,291.6 446.6,293 446.6,293.6" fill="#6b4891"/>
<rect x="442" y="293" width="4.6" height="8.75" fill="url(#gP)"/>
<text x="443.2" y="327.6" text-anchor="middle" class="xl">Lu</text>
<polygon points="472.4,301.3 476.6,299.4 683.5,299.4 679.3,301.3" fill="#939393"/>
<line x1="472.4" y1="301.65" x2="679.3" y2="301.65" stroke="#c6c6c6" stroke-width="0.8"/>
<line x1="476.6" y1="266.9" x2="683.5" y2="266.9" stroke="#bdbdbd" stroke-width="0.9"/>
<line x1="472.4" y1="268.8" x2="476.6" y2="266.9" stroke="#c4c4c4" stroke-width="0.9"/>
<line x1="476.6" y1="234.4" x2="683.5" y2="234.4" stroke="#bdbdbd" stroke-width="0.9"/>
<line x1="472.4" y1="236.3" x2="476.6" y2="234.4" stroke="#c4c4c4" stroke-width="0.9"/>
<line x1="476.6" y1="201.9" x2="683.5" y2="201.9" stroke="#dcdcdc" stroke-width="0.9"/>
<line x1="472.4" y1="203.8" x2="476.6" y2="201.9" stroke="#c4c4c4" stroke-width="0.9"/>
<line x1="476.6" y1="201.9" x2="476.6" y2="299.4" stroke="#b0b0b0" stroke-width="1"/>
<line x1="472.4" y1="203.8" x2="472.4" y2="301.3" stroke="#c0c0c0" stroke-width="0.9"/>
<line x1="683.5" y1="201.9" x2="683.5" y2="299.4" stroke="#c0c0c0" stroke-width="0.9"/>
<text x="468.2" y="304.77" text-anchor="end" class="tk" font-size="9.4">0</text>
<text x="468.2" y="272.27" text-anchor="end" class="tk" font-size="9.4">20</text>
<text x="468.2" y="239.77" text-anchor="end" class="tk" font-size="9.4">40</text>
<text x="468.2" y="207.27" text-anchor="end" class="tk" font-size="9.4">60</text>
<text x="546.6" y="220.8" class="tt" textLength="110" lengthAdjust="spacingAndGlyphs">Selenides = 107</text>
<polygon points="478.9,272.75 478.9,272.15 481.8,270.85 481.8,299.5 479.5,300.8 478.9,300.8" fill="#1a3f7e"/>
<polygon points="475.7,272.75 475.7,272.15 478,270.85 481.8,270.85 479.5,272.15 479.5,272.75" fill="#1f4b92"/>
<rect x="475.7" y="272.15" width="3.8" height="28.65" fill="url(#gB)"/>
<text x="476.8" y="328" text-anchor="middle" class="xl">Na</text>
<polygon points="487.2,272.75 487.2,272.15 490.1,270.85 490.1,299.5 487.8,300.8 487.2,300.8" fill="#1a3f7e"/>
<polygon points="484,272.75 484,272.15 486.3,270.85 490.1,270.85 487.8,272.15 487.8,272.75" fill="#1f4b92"/>
<rect x="484" y="272.15" width="3.8" height="28.65" fill="url(#gB)"/>
<text x="485.1" y="315.7" text-anchor="middle" class="xl">K</text>
<polygon points="495.5,259.75 495.5,259.15 498.4,257.85 498.4,299.5 496.1,300.8 495.5,300.8" fill="#1a3f7e"/>
<polygon points="492.3,259.75 492.3,259.15 494.6,257.85 498.4,257.85 496.1,259.15 496.1,259.75" fill="#1f4b92"/>
<rect x="492.3" y="259.15" width="3.8" height="41.65" fill="url(#gB)"/>
<text x="493.4" y="328" text-anchor="middle" class="xl">Rb</text>
<polygon points="503.8,256.5 503.8,255.9 506.7,254.6 506.7,299.5 504.4,300.8 503.8,300.8" fill="#1a3f7e"/>
<polygon points="500.6,256.5 500.6,255.9 502.9,254.6 506.7,254.6 504.4,255.9 504.4,256.5" fill="#1f4b92"/>
<rect x="500.6" y="255.9" width="3.8" height="44.9" fill="url(#gB)"/>
<text x="501.7" y="315.7" text-anchor="middle" class="xl">Cs</text>
<polygon points="512.1,274.38 512.1,273.78 515,272.48 515,299.5 512.7,300.8 512.1,300.8" fill="#1a3f7e"/>
<polygon points="508.9,274.38 508.9,273.78 511.2,272.48 515,272.48 512.7,273.78 512.7,274.38" fill="#1f4b92"/>
<rect x="508.9" y="273.78" width="3.8" height="27.02" fill="url(#gB)"/>
<text x="510" y="328" text-anchor="middle" class="xl">Tl</text>
<polygon points="520.4,209.38 520.4,208.78 523.3,207.48 523.3,299.5 521,300.8 520.4,300.8" fill="#9c5e1e"/>
<polygon points="517.2,209.38 517.2,208.78 519.5,207.48 523.3,207.48 521,208.78 521,209.38" fill="#b87424"/>
<rect x="517.2" y="208.78" width="3.8" height="92.02" fill="url(#gO)"/>
<text x="518.3" y="315.7" text-anchor="middle" class="xl">Mn</text>
<polygon points="528.7,295.5 528.7,294.9 531.6,293.6 531.6,299.5 529.3,300.8 528.7,300.8" fill="#9c5e1e"/>
<polygon points="525.5,295.5 525.5,294.9 527.8,293.6 531.6,293.6 529.3,294.9 529.3,295.5" fill="#b87424"/>
<rect x="525.5" y="294.9" width="3.8" height="5.9" fill="url(#gO)"/>
<text x="526.6" y="328" text-anchor="middle" class="xl">Fe</text>
<polygon points="537,298.75 537,298.15 539.9,296.85 539.9,299.5 537.6,300.8 537,300.8" fill="#9c5e1e"/>
<polygon points="533.8,298.75 533.8,298.15 536.1,296.85 539.9,296.85 537.6,298.15 537.6,298.75" fill="#b87424"/>
<rect x="533.8" y="298.15" width="3.8" height="2.65" fill="url(#gO)"/>
<text x="534.9" y="315.7" text-anchor="middle" class="xl">Ni</text>
<polygon points="545.3,254.88 545.3,254.28 548.2,252.98 548.2,299.5 545.9,300.8 545.3,300.8" fill="#9c5e1e"/>
<polygon points="542.1,254.88 542.1,254.28 544.4,252.98 548.2,252.98 545.9,254.28 545.9,254.88" fill="#b87424"/>
<rect x="542.1" y="254.28" width="3.8" height="46.52" fill="url(#gO)"/>
<text x="543.2" y="328" text-anchor="middle" class="xl">Zn</text>
<polygon points="553.6,290.63 553.6,290.03 556.5,288.73 556.5,299.5 554.2,300.8 553.6,300.8" fill="#9c5e1e"/>
<polygon points="550.4,290.63 550.4,290.03 552.7,288.73 556.5,288.73 554.2,290.03 554.2,290.63" fill="#b87424"/>
<rect x="550.4" y="290.03" width="3.8" height="10.77" fill="url(#gO)"/>
<text x="551.5" y="315.7" text-anchor="middle" class="xl">Cd</text>
<polygon points="561.9,289 561.9,288.4 564.8,287.1 564.8,299.5 562.5,300.8 561.9,300.8" fill="#9c5e1e"/>
<polygon points="558.7,289 558.7,288.4 561,287.1 564.8,287.1 562.5,288.4 562.5,289" fill="#b87424"/>
<rect x="558.7" y="288.4" width="3.8" height="12.4" fill="url(#gO)"/>
<text x="559.8" y="328" text-anchor="middle" class="xl">Hg</text>
<polygon points="570.2,292.25 570.2,291.65 573.1,290.35 573.1,299.5 570.8,300.8 570.2,300.8" fill="#5f3d82"/>
<polygon points="567,292.25 567,291.65 569.3,290.35 573.1,290.35 570.8,291.65 570.8,292.25" fill="#6b4891"/>
<rect x="567" y="291.65" width="3.8" height="9.15" fill="url(#gP)"/>
<text x="568.1" y="315.7" text-anchor="middle" class="xl">Sc</text>
<polygon points="578.5,295.5 578.5,294.9 581.4,293.6 581.4,299.5 579.1,300.8 578.5,300.8" fill="#5f3d82"/>
<polygon points="575.3,295.5 575.3,294.9 577.6,293.6 581.4,293.6 579.1,294.9 579.1,295.5" fill="#6b4891"/>
<rect x="575.3" y="294.9" width="3.8" height="5.9" fill="url(#gP)"/>
<text x="576.4" y="328" text-anchor="middle" class="xl">Y</text>
<polygon points="586.8,289 586.8,288.4 589.7,287.1 589.7,299.5 587.4,300.8 586.8,300.8" fill="#5f3d82"/>
<polygon points="583.6,289 583.6,288.4 585.9,287.1 589.7,287.1 587.4,288.4 587.4,289" fill="#6b4891"/>
<rect x="583.6" y="288.4" width="3.8" height="12.4" fill="url(#gP)"/>
<text x="584.7" y="315.7" text-anchor="middle" class="xl">La</text>
<polygon points="595.1,293.88 595.1,293.28 598,291.98 598,299.5 595.7,300.8 595.1,300.8" fill="#5f3d82"/>
<polygon points="591.9,293.88 591.9,293.28 594.2,291.98 598,291.98 595.7,293.28 595.7,293.88" fill="#6b4891"/>
<rect x="591.9" y="293.28" width="3.8" height="7.52" fill="url(#gP)"/>
<text x="593" y="328" text-anchor="middle" class="xl">Ce</text>
<polygon points="603.4,290.63 603.4,290.03 606.3,288.73 606.3,299.5 604,300.8 603.4,300.8" fill="#5f3d82"/>
<polygon points="600.2,290.63 600.2,290.03 602.5,288.73 606.3,288.73 604,290.03 604,290.63" fill="#6b4891"/>
<rect x="600.2" y="290.03" width="3.8" height="10.77" fill="url(#gP)"/>
<text x="601.3" y="315.7" text-anchor="middle" class="xl">Pr</text>
<polygon points="611.7,287.38 611.7,286.78 614.6,285.48 614.6,299.5 612.3,300.8 611.7,300.8" fill="#5f3d82"/>
<polygon points="608.5,287.38 608.5,286.78 610.8,285.48 614.6,285.48 612.3,286.78 612.3,287.38" fill="#6b4891"/>
<rect x="608.5" y="286.78" width="3.8" height="14.02" fill="url(#gP)"/>
<text x="609.6" y="328" text-anchor="middle" class="xl">Nd</text>
<polygon points="620,284.13 620,283.53 622.9,282.23 622.9,299.5 620.6,300.8 620,300.8" fill="#5f3d82"/>
<polygon points="616.8,284.13 616.8,283.53 619.1,282.23 622.9,282.23 620.6,283.53 620.6,284.13" fill="#6b4891"/>
<rect x="616.8" y="283.53" width="3.8" height="17.27" fill="url(#gP)"/>
<text x="617.9" y="315.7" text-anchor="middle" class="xl">Sm</text>
<polygon points="628.3,292.25 628.3,291.65 631.2,290.35 631.2,299.5 628.9,300.8 628.3,300.8" fill="#5f3d82"/>
<polygon points="625.1,292.25 625.1,291.65 627.4,290.35 631.2,290.35 628.9,291.65 628.9,292.25" fill="#6b4891"/>
<rect x="625.1" y="291.65" width="3.8" height="9.15" fill="url(#gP)"/>
<text x="626.2" y="328" text-anchor="middle" class="xl">Gd</text>
<polygon points="636.6,290.63 636.6,290.03 639.5,288.73 639.5,299.5 637.2,300.8 636.6,300.8" fill="#5f3d82"/>
<polygon points="633.4,290.63 633.4,290.03 635.7,288.73 639.5,288.73 637.2,290.03 637.2,290.63" fill="#6b4891"/>
<rect x="633.4" y="290.03" width="3.8" height="10.77" fill="url(#gP)"/>
<text x="634.5" y="315.7" text-anchor="middle" class="xl">Tb</text>
<polygon points="644.9,290.63 644.9,290.03 647.8,288.73 647.8,299.5 645.5,300.8 644.9,300.8" fill="#5f3d82"/>
<polygon points="641.7,290.63 641.7,290.03 644,288.73 647.8,288.73 645.5,290.03 645.5,290.63" fill="#6b4891"/>
<rect x="641.7" y="290.03" width="3.8" height="10.77" fill="url(#gP)"/>
<text x="642.8" y="328" text-anchor="middle" class="xl">Dy</text>
<polygon points="653.2,289 653.2,288.4 656.1,287.1 656.1,299.5 653.8,300.8 653.2,300.8" fill="#5f3d82"/>
<polygon points="650,289 650,288.4 652.3,287.1 656.1,287.1 653.8,288.4 653.8,289" fill="#6b4891"/>
<rect x="650" y="288.4" width="3.8" height="12.4" fill="url(#gP)"/>
<text x="651.1" y="315.7" text-anchor="middle" class="xl">Ho</text>
<polygon points="661.5,292.25 661.5,291.65 664.4,290.35 664.4,299.5 662.1,300.8 661.5,300.8" fill="#5f3d82"/>
<polygon points="658.3,292.25 658.3,291.65 660.6,290.35 664.4,290.35 662.1,291.65 662.1,292.25" fill="#6b4891"/>
<rect x="658.3" y="291.65" width="3.8" height="9.15" fill="url(#gP)"/>
<text x="659.4" y="328" text-anchor="middle" class="xl">Er</text>
<polygon points="669.8,287.38 669.8,286.78 672.7,285.48 672.7,299.5 670.4,300.8 669.8,300.8" fill="#5f3d82"/>
<polygon points="666.6,287.38 666.6,286.78 668.9,285.48 672.7,285.48 670.4,286.78 670.4,287.38" fill="#6b4891"/>
<rect x="666.6" y="286.78" width="3.8" height="14.02" fill="url(#gP)"/>
<text x="667.7" y="315.7" text-anchor="middle" class="xl">Tm</text>
<polygon points="678.1,279.25 678.1,278.65 681,277.35 681,299.5 678.7,300.8 678.1,300.8" fill="#5f3d82"/>
<polygon points="674.9,279.25 674.9,278.65 677.2,277.35 681,277.35 678.7,278.65 678.7,279.25" fill="#6b4891"/>
<rect x="674.9" y="278.65" width="3.8" height="22.15" fill="url(#gP)"/>
<text x="676" y="328" text-anchor="middle" class="xl">Lu</text>
<polygon points="34.4,463.2 41.6,460.3 226.25,460.3 219.05,463.2" fill="#939393"/>
<line x1="34.4" y1="463.55" x2="219.05" y2="463.55" stroke="#c6c6c6" stroke-width="0.8"/>
<line x1="41.6" y1="434.9" x2="226.25" y2="434.9" stroke="#bdbdbd" stroke-width="0.9"/>
<line x1="34.4" y1="437.8" x2="41.6" y2="434.9" stroke="#c4c4c4" stroke-width="0.9"/>
<line x1="41.6" y1="409.5" x2="226.25" y2="409.5" stroke="#bdbdbd" stroke-width="0.9"/>
<line x1="34.4" y1="412.4" x2="41.6" y2="409.5" stroke="#c4c4c4" stroke-width="0.9"/>
<line x1="41.6" y1="384.1" x2="226.25" y2="384.1" stroke="#bdbdbd" stroke-width="0.9"/>
<line x1="34.4" y1="387" x2="41.6" y2="384.1" stroke="#c4c4c4" stroke-width="0.9"/>
<line x1="41.6" y1="358.7" x2="226.25" y2="358.7" stroke="#dcdcdc" stroke-width="0.9"/>
<line x1="34.4" y1="361.6" x2="41.6" y2="358.7" stroke="#c4c4c4" stroke-width="0.9"/>
<line x1="41.6" y1="358.7" x2="41.6" y2="460.3" stroke="#b0b0b0" stroke-width="1"/>
<line x1="34.4" y1="361.6" x2="34.4" y2="463.2" stroke="#c0c0c0" stroke-width="0.9"/>
<line x1="226.25" y1="358.7" x2="226.25" y2="460.3" stroke="#c0c0c0" stroke-width="0.9"/>
<text x="30.8" y="467.35" text-anchor="end" class="tk" font-size="10.2">0</text>
<text x="30.8" y="441.95" text-anchor="end" class="tk" font-size="10.2">5</text>
<text x="30.8" y="416.55" text-anchor="end" class="tk" font-size="10.2">10</text>
<text x="30.8" y="391.15" text-anchor="end" class="tk" font-size="10.2">15</text>
<text x="30.8" y="365.75" text-anchor="end" class="tk" font-size="10.2">20</text>
<text x="81.5" y="375.5" class="tt" textLength="101.1" lengthAdjust="spacingAndGlyphs">Tellurides = 25</text>
<polygon points="47.4,433.72 47.4,433.12 51.6,431.52 51.6,461.4 48,463 47.4,463" fill="#1a3f7e"/>
<polygon points="40.3,433.72 40.3,433.12 43.9,431.52 51.6,431.52 48,433.12 48,433.72" fill="#1f4b92"/>
<rect x="40.3" y="433.12" width="7.7" height="29.88" fill="url(#gB)"/>
<text x="42.55" y="476.8" text-anchor="middle" class="xl">Na</text>
<polygon points="64.27,438.8 64.27,438.2 68.47,436.6 68.47,461.4 64.87,463 64.27,463" fill="#1a3f7e"/>
<polygon points="57.17,438.8 57.17,438.2 60.77,436.6 68.47,436.6 64.87,438.2 64.87,438.8" fill="#1f4b92"/>
<rect x="57.17" y="438.2" width="7.7" height="24.8" fill="url(#gB)"/>
<text x="59.42" y="476.8" text-anchor="middle" class="xl">K</text>
<polygon points="81.14,443.88 81.14,443.28 85.34,441.68 85.34,461.4 81.74,463 81.14,463" fill="#1a3f7e"/>
<polygon points="74.04,443.88 74.04,443.28 77.64,441.68 85.34,441.68 81.74,443.28 81.74,443.88" fill="#1f4b92"/>
<rect x="74.04" y="443.28" width="7.7" height="19.72" fill="url(#gB)"/>
<text x="76.29" y="476.8" text-anchor="middle" class="xl">Rb</text>
<polygon points="98.01,443.88 98.01,443.28 102.21,441.68 102.21,461.4 98.61,463 98.01,463" fill="#1a3f7e"/>
<polygon points="90.91,443.88 90.91,443.28 94.51,441.68 102.21,441.68 98.61,443.28 98.61,443.88" fill="#1f4b92"/>
<rect x="90.91" y="443.28" width="7.7" height="19.72" fill="url(#gB)"/>
<text x="93.16" y="476.8" text-anchor="middle" class="xl">Cs</text>
<polygon points="114.88,433.72 114.88,433.12 119.08,431.52 119.08,461.4 115.48,463 114.88,463" fill="#1a3f7e"/>
<polygon points="107.78,433.72 107.78,433.12 111.38,431.52 119.08,431.52 115.48,433.12 115.48,433.72" fill="#1f4b92"/>
<rect x="107.78" y="433.12" width="7.7" height="29.88" fill="url(#gB)"/>
<text x="110.03" y="476.8" text-anchor="middle" class="xl">Tl</text>
<polygon points="131.75,403.24 131.75,402.64 135.95,401.04 135.95,461.4 132.35,463 131.75,463" fill="#9c5e1e"/>
<polygon points="124.65,403.24 124.65,402.64 128.25,401.04 135.95,401.04 132.35,402.64 132.35,403.24" fill="#b87424"/>
<rect x="124.65" y="402.64" width="7.7" height="60.36" fill="url(#gO)"/>
<text x="126.9" y="476.8" text-anchor="middle" class="xl">Cu</text>
<polygon points="148.62,428.64 148.62,428.04 152.82,426.44 152.82,461.4 149.22,463 148.62,463" fill="#9c5e1e"/>
<polygon points="141.52,428.64 141.52,428.04 145.12,426.44 152.82,426.44 149.22,428.04 149.22,428.64" fill="#b87424"/>
<rect x="141.52" y="428.04" width="7.7" height="34.96" fill="url(#gO)"/>
<text x="143.77" y="476.8" text-anchor="middle" class="xl">Ag</text>
<polygon points="165.49,433.72 165.49,433.12 169.69,431.52 169.69,461.4 166.09,463 165.49,463" fill="#9c5e1e"/>
<polygon points="158.39,433.72 158.39,433.12 161.99,431.52 169.69,431.52 166.09,433.12 166.09,433.72" fill="#b87424"/>
<rect x="158.39" y="433.12" width="7.7" height="29.88" fill="url(#gO)"/>
<text x="160.64" y="476.8" text-anchor="middle" class="xl">Au</text>
<polygon points="182.36,443.88 182.36,443.28 186.56,441.68 186.56,461.4 182.96,463 182.36,463" fill="#5f3d82"/>
<polygon points="175.26,443.88 175.26,443.28 178.86,441.68 186.56,441.68 182.96,443.28 182.96,443.88" fill="#6b4891"/>
<rect x="175.26" y="443.28" width="7.7" height="19.72" fill="url(#gP)"/>
<text x="177.51" y="476.8" text-anchor="middle" class="xl">Ti</text>
<polygon points="199.23,413.4 199.23,412.8 203.43,411.2 203.43,461.4 199.83,463 199.23,463" fill="#5f3d82"/>
<polygon points="192.13,413.4 192.13,412.8 195.73,411.2 203.43,411.2 199.83,412.8 199.83,413.4" fill="#6b4891"/>
<rect x="192.13" y="412.8" width="7.7" height="50.2" fill="url(#gP)"/>
<text x="194.38" y="476.8" text-anchor="middle" class="xl">Zr</text>
<polygon points="216.1,408.32 216.1,407.72 220.3,406.12 220.3,461.4 216.7,463 216.1,463" fill="#5f3d82"/>
<polygon points="209,408.32 209,407.72 212.6,406.12 220.3,406.12 216.7,407.72 216.7,408.32" fill="#6b4891"/>
<rect x="209" y="407.72" width="7.7" height="55.28" fill="url(#gP)"/>
<text x="211.25" y="476.8" text-anchor="middle" class="xl">Hf</text>
<polygon points="248.6,450.7 253.4,449.1 454.2,449.1 449.4,450.7" fill="#939393"/>
<line x1="248.6" y1="451.05" x2="449.4" y2="451.05" stroke="#c6c6c6" stroke-width="0.8"/>
<line x1="253.4" y1="430.1" x2="454.2" y2="430.1" stroke="#bdbdbd" stroke-width="0.9"/>
<line x1="248.6" y1="431.7" x2="253.4" y2="430.1" stroke="#c4c4c4" stroke-width="0.9"/>
<line x1="253.4" y1="411.1" x2="454.2" y2="411.1" stroke="#bdbdbd" stroke-width="0.9"/>
<line x1="248.6" y1="412.7" x2="253.4" y2="411.1" stroke="#c4c4c4" stroke-width="0.9"/>
<line x1="253.4" y1="392.1" x2="454.2" y2="392.1" stroke="#bdbdbd" stroke-width="0.9"/>
<line x1="248.6" y1="393.7" x2="253.4" y2="392.1" stroke="#c4c4c4" stroke-width="0.9"/>
<line x1="253.4" y1="373.1" x2="454.2" y2="373.1" stroke="#bdbdbd" stroke-width="0.9"/>
<line x1="248.6" y1="374.7" x2="253.4" y2="373.1" stroke="#c4c4c4" stroke-width="0.9"/>
<line x1="253.4" y1="354.1" x2="454.2" y2="354.1" stroke="#dcdcdc" stroke-width="0.9"/>
<line x1="248.6" y1="355.7" x2="253.4" y2="354.1" stroke="#c4c4c4" stroke-width="0.9"/>
<line x1="253.4" y1="354.1" x2="253.4" y2="449.1" stroke="#b0b0b0" stroke-width="1"/>
<line x1="248.6" y1="355.7" x2="248.6" y2="450.7" stroke="#c0c0c0" stroke-width="0.9"/>
<line x1="454.2" y1="354.1" x2="454.2" y2="449.1" stroke="#c0c0c0" stroke-width="0.9"/>
<text x="244.3" y="455.19" text-anchor="end" class="tk" font-size="10.3">0</text>
<text x="244.3" y="436.19" text-anchor="end" class="tk" font-size="10.3">10</text>
<text x="244.3" y="417.19" text-anchor="end" class="tk" font-size="10.3">20</text>
<text x="244.3" y="398.19" text-anchor="end" class="tk" font-size="10.3">30</text>
<text x="244.3" y="379.19" text-anchor="end" class="tk" font-size="10.3">40</text>
<text x="244.3" y="360.19" text-anchor="end" class="tk" font-size="10.3">50</text>
<text x="307.6" y="370.3" class="tt" textLength="109.2" lengthAdjust="spacingAndGlyphs">Tellurides = 112</text>
<polygon points="256.2,434.7 256.2,434.1 259,432.7 259,449.2 256.8,450.6 256.2,450.6" fill="#1a3f7e"/>
<polygon points="252.4,434.7 252.4,434.1 254.6,432.7 259,432.7 256.8,434.1 256.8,434.7" fill="#1f4b92"/>
<rect x="252.4" y="434.1" width="4.4" height="16.5" fill="url(#gB)"/>
<text x="253.85" y="477.4" text-anchor="middle" class="xl">Ca</text>
<polygon points="265.8,413.8 265.8,413.2 268.6,411.8 268.6,449.2 266.4,450.6 265.8,450.6" fill="#1a3f7e"/>
<polygon points="262,413.8 262,413.2 264.2,411.8 268.6,411.8 266.4,413.2 266.4,413.8" fill="#1f4b92"/>
<rect x="262" y="413.2" width="4.4" height="37.4" fill="url(#gB)"/>
<text x="263.45" y="465.6" text-anchor="middle" class="xl">Sr</text>
<polygon points="275.4,406.2 275.4,405.6 278.2,404.2 278.2,449.2 276,450.6 275.4,450.6" fill="#1a3f7e"/>
<polygon points="271.6,406.2 271.6,405.6 273.8,404.2 278.2,404.2 276,405.6 276,406.2" fill="#1f4b92"/>
<rect x="271.6" y="405.6" width="4.4" height="45" fill="url(#gB)"/>
<text x="273.05" y="477.4" text-anchor="middle" class="xl">Eu</text>
<polygon points="285,400.5 285,399.9 287.8,398.5 287.8,449.2 285.6,450.6 285,450.6" fill="#1a3f7e"/>
<polygon points="281.2,400.5 281.2,399.9 283.4,398.5 287.8,398.5 285.6,399.9 285.6,400.5" fill="#1f4b92"/>
<rect x="281.2" y="399.9" width="4.4" height="50.7" fill="url(#gB)"/>
<text x="282.65" y="465.6" text-anchor="middle" class="xl">Ba</text>
<polygon points="294.6,373.9 294.6,373.3 297.4,371.9 297.4,449.2 295.2,450.6 294.6,450.6" fill="#9c5e1e"/>
<polygon points="290.8,373.9 290.8,373.3 293,371.9 297.4,371.9 295.2,373.3 295.2,373.9" fill="#b87424"/>
<rect x="290.8" y="373.3" width="4.4" height="77.3" fill="url(#gO)"/>
<text x="292.25" y="477.4" text-anchor="middle" class="xl">Cu</text>
<polygon points="304.2,391 304.2,390.4 307,389 307,449.2 304.8,450.6 304.2,450.6" fill="#9c5e1e"/>
<polygon points="300.4,391 300.4,390.4 302.6,389 307,389 304.8,390.4 304.8,391" fill="#b87424"/>
<rect x="300.4" y="390.4" width="4.4" height="60.2" fill="url(#gO)"/>
<text x="301.85" y="465.6" text-anchor="middle" class="xl">Ag</text>
<polygon points="313.8,438.5 313.8,437.9 316.6,436.5 316.6,449.2 314.4,450.6 313.8,450.6" fill="#9c5e1e"/>
<polygon points="310,438.5 310,437.9 312.2,436.5 316.6,436.5 314.4,437.9 314.4,438.5" fill="#b87424"/>
<rect x="310" y="437.9" width="4.4" height="12.7" fill="url(#gO)"/>
<text x="311.45" y="477.4" text-anchor="middle" class="xl">Au</text>
<polygon points="323.4,442.3 323.4,441.7 326.2,440.3 326.2,449.2 324,450.6 323.4,450.6" fill="#5f3d82"/>
<polygon points="319.6,442.3 319.6,441.7 321.8,440.3 326.2,440.3 324,441.7 324,442.3" fill="#6b4891"/>
<rect x="319.6" y="441.7" width="4.4" height="8.9" fill="url(#gP)"/>
<text x="321.05" y="465.6" text-anchor="middle" class="xl">Sc</text>
<polygon points="333,442.3 333,441.7 335.8,440.3 335.8,449.2 333.6,450.6 333,450.6" fill="#5f3d82"/>
<polygon points="329.2,442.3 329.2,441.7 331.4,440.3 335.8,440.3 333.6,441.7 333.6,442.3" fill="#6b4891"/>
<rect x="329.2" y="441.7" width="4.4" height="8.9" fill="url(#gP)"/>
<text x="330.65" y="477.4" text-anchor="middle" class="xl">Y</text>
<polygon points="342.6,448 342.6,447.4 345.4,446 345.4,449.2 343.2,450.6 342.6,450.6" fill="#5f3d82"/>
<polygon points="338.8,448 338.8,447.4 341,446 345.4,446 343.2,447.4 343.2,448" fill="#6b4891"/>
<rect x="338.8" y="447.4" width="4.4" height="3.2" fill="url(#gP)"/>
<text x="340.25" y="465.6" text-anchor="middle" class="xl">La</text>
<polygon points="352.2,446.1 352.2,445.5 355,444.1 355,449.2 352.8,450.6 352.2,450.6" fill="#5f3d82"/>
<polygon points="348.4,446.1 348.4,445.5 350.6,444.1 355,444.1 352.8,445.5 352.8,446.1" fill="#6b4891"/>
<rect x="348.4" y="445.5" width="4.4" height="5.1" fill="url(#gP)"/>
<text x="349.85" y="477.4" text-anchor="middle" class="xl">Ce</text>
<polygon points="361.8,442.3 361.8,441.7 364.6,440.3 364.6,449.2 362.4,450.6 361.8,450.6" fill="#5f3d82"/>
<polygon points="358,442.3 358,441.7 360.2,440.3 364.6,440.3 362.4,441.7 362.4,442.3" fill="#6b4891"/>
<rect x="358" y="441.7" width="4.4" height="8.9" fill="url(#gP)"/>
<text x="359.45" y="465.6" text-anchor="middle" class="xl">Pr</text>
<polygon points="371.4,438.5 371.4,437.9 374.2,436.5 374.2,449.2 372,450.6 371.4,450.6" fill="#5f3d82"/>
<polygon points="367.6,438.5 367.6,437.9 369.8,436.5 374.2,436.5 372,437.9 372,438.5" fill="#6b4891"/>
<rect x="367.6" y="437.9" width="4.4" height="12.7" fill="url(#gP)"/>
<text x="369.05" y="477.4" text-anchor="middle" class="xl">Nd</text>
<polygon points="381,438.5 381,437.9 383.8,436.5 383.8,449.2 381.6,450.6 381,450.6" fill="#5f3d82"/>
<polygon points="377.2,438.5 377.2,437.9 379.4,436.5 383.8,436.5 381.6,437.9 381.6,438.5" fill="#6b4891"/>
<rect x="377.2" y="437.9" width="4.4" height="12.7" fill="url(#gP)"/>
<text x="378.65" y="465.6" text-anchor="middle" class="xl">Sm</text>
<polygon points="390.6,442.3 390.6,441.7 393.4,440.3 393.4,449.2 391.2,450.6 390.6,450.6" fill="#5f3d82"/>
<polygon points="386.8,442.3 386.8,441.7 389,440.3 393.4,440.3 391.2,441.7 391.2,442.3" fill="#6b4891"/>
<rect x="386.8" y="441.7" width="4.4" height="8.9" fill="url(#gP)"/>
<text x="388.25" y="477.4" text-anchor="middle" class="xl">Gd</text>
<polygon points="400.2,436.6 400.2,436 403,434.6 403,449.2 400.8,450.6 400.2,450.6" fill="#5f3d82"/>
<polygon points="396.4,436.6 396.4,436 398.6,434.6 403,434.6 400.8,436 400.8,436.6" fill="#6b4891"/>
<rect x="396.4" y="436" width="4.4" height="14.6" fill="url(#gP)"/>
<text x="397.85" y="465.6" text-anchor="middle" class="xl">Tb</text>
<polygon points="409.8,438.5 409.8,437.9 412.6,436.5 412.6,449.2 410.4,450.6 409.8,450.6" fill="#5f3d82"/>
<polygon points="406,438.5 406,437.9 408.2,436.5 412.6,436.5 410.4,437.9 410.4,438.5" fill="#6b4891"/>
<rect x="406" y="437.9" width="4.4" height="12.7" fill="url(#gP)"/>
<text x="407.45" y="477.4" text-anchor="middle" class="xl">Dy</text>
<polygon points="419.4,436.6 419.4,436 422.2,434.6 422.2,449.2 420,450.6 419.4,450.6" fill="#5f3d82"/>
<polygon points="415.6,436.6 415.6,436 417.8,434.6 422.2,434.6 420,436 420,436.6" fill="#6b4891"/>
<rect x="415.6" y="436" width="4.4" height="14.6" fill="url(#gP)"/>
<text x="417.05" y="465.6" text-anchor="middle" class="xl">Ho</text>
<polygon points="429,442.3 429,441.7 431.8,440.3 431.8,449.2 429.6,450.6 429,450.6" fill="#5f3d82"/>
<polygon points="425.2,442.3 425.2,441.7 427.4,440.3 431.8,440.3 429.6,441.7 429.6,442.3" fill="#6b4891"/>
<rect x="425.2" y="441.7" width="4.4" height="8.9" fill="url(#gP)"/>
<text x="426.65" y="477.4" text-anchor="middle" class="xl">Er</text>
<polygon points="438.6,438.5 438.6,437.9 441.4,436.5 441.4,449.2 439.2,450.6 438.6,450.6" fill="#5f3d82"/>
<polygon points="434.8,438.5 434.8,437.9 437,436.5 441.4,436.5 439.2,437.9 439.2,438.5" fill="#6b4891"/>
<rect x="434.8" y="437.9" width="4.4" height="12.7" fill="url(#gP)"/>
<text x="436.25" y="465.6" text-anchor="middle" class="xl">Tm</text>
<polygon points="448.2,440.4 448.2,439.8 451,438.4 451,449.2 448.8,450.6 448.2,450.6" fill="#5f3d82"/>
<polygon points="444.4,440.4 444.4,439.8 446.6,438.4 451,438.4 448.8,439.8 448.8,440.4" fill="#6b4891"/>
<rect x="444.4" y="439.8" width="4.4" height="10.8" fill="url(#gP)"/>
<text x="445.85" y="477.4" text-anchor="middle" class="xl">Lu</text>
<polygon points="476.1,450.2 480.4,448.4 683.6,448.4 679.3,450.2" fill="#939393"/>
<line x1="476.1" y1="450.55" x2="679.3" y2="450.55" stroke="#c6c6c6" stroke-width="0.8"/>
<line x1="480.4" y1="416.43" x2="683.6" y2="416.43" stroke="#bdbdbd" stroke-width="0.9"/>
<line x1="476.1" y1="418.23" x2="480.4" y2="416.43" stroke="#c4c4c4" stroke-width="0.9"/>
<line x1="480.4" y1="384.47" x2="683.6" y2="384.47" stroke="#bdbdbd" stroke-width="0.9"/>
<line x1="476.1" y1="386.27" x2="480.4" y2="384.47" stroke="#c4c4c4" stroke-width="0.9"/>
<line x1="480.4" y1="352.5" x2="683.6" y2="352.5" stroke="#dcdcdc" stroke-width="0.9"/>
<line x1="476.1" y1="354.3" x2="480.4" y2="352.5" stroke="#c4c4c4" stroke-width="0.9"/>
<line x1="480.4" y1="352.5" x2="480.4" y2="448.4" stroke="#b0b0b0" stroke-width="1"/>
<line x1="476.1" y1="354.3" x2="476.1" y2="450.2" stroke="#c0c0c0" stroke-width="0.9"/>
<line x1="683.6" y1="352.5" x2="683.6" y2="448.4" stroke="#c0c0c0" stroke-width="0.9"/>
<text x="471.8" y="453.93" text-anchor="end" class="tk" font-size="9.3">0</text>
<text x="471.8" y="421.96" text-anchor="end" class="tk" font-size="9.3">20</text>
<text x="471.8" y="390" text-anchor="end" class="tk" font-size="9.3">40</text>
<text x="471.8" y="358.03" text-anchor="end" class="tk" font-size="9.3">60</text>
<text x="538.5" y="371.7" class="tt" textLength="110.5" lengthAdjust="spacingAndGlyphs">Tellurides = 111</text>
<polygon points="482.55,447.7 482.55,447.1 485.15,445.9 485.15,448.5 483.15,449.7 482.55,449.7" fill="#1a3f7e"/>
<polygon points="479.15,447.7 479.15,447.1 481.15,445.9 485.15,445.9 483.15,447.1 483.15,447.7" fill="#1f4b92"/>
<rect x="479.15" y="447.1" width="4" height="2.6" fill="url(#gB)"/>
<text x="479.95" y="476.5" text-anchor="middle" class="xl">Na</text>
<polygon points="490.68,439.71 490.68,439.11 493.28,437.91 493.28,448.5 491.28,449.7 490.68,449.7" fill="#1a3f7e"/>
<polygon points="487.28,439.71 487.28,439.11 489.28,437.91 493.28,437.91 491.28,439.11 491.28,439.71" fill="#1f4b92"/>
<rect x="487.28" y="439.11" width="4" height="10.59" fill="url(#gB)"/>
<text x="488.08" y="464.7" text-anchor="middle" class="xl">K</text>
<polygon points="498.82,407.75 498.82,407.14 501.42,405.94 501.42,448.5 499.42,449.7 498.82,449.7" fill="#1a3f7e"/>
<polygon points="495.42,407.75 495.42,407.14 497.42,405.94 501.42,405.94 499.42,407.14 499.42,407.75" fill="#1f4b92"/>
<rect x="495.42" y="407.14" width="4" height="42.55" fill="url(#gB)"/>
<text x="496.22" y="476.5" text-anchor="middle" class="xl">Rb</text>
<polygon points="506.95,396.56 506.95,395.96 509.55,394.76 509.55,448.5 507.55,449.7 506.95,449.7" fill="#1a3f7e"/>
<polygon points="503.55,396.56 503.55,395.96 505.55,394.76 509.55,394.76 507.55,395.96 507.55,396.56" fill="#1f4b92"/>
<rect x="503.55" y="395.96" width="4" height="53.74" fill="url(#gB)"/>
<text x="504.35" y="464.7" text-anchor="middle" class="xl">Cs</text>
<polygon points="515.09,385.37 515.09,384.77 517.69,383.57 517.69,448.5 515.69,449.7 515.09,449.7" fill="#1a3f7e"/>
<polygon points="511.69,385.37 511.69,384.77 513.69,383.57 517.69,383.57 515.69,384.77 515.69,385.37" fill="#1f4b92"/>
<rect x="511.69" y="384.77" width="4" height="64.93" fill="url(#gB)"/>
<text x="512.49" y="476.5" text-anchor="middle" class="xl">Tl</text>
<polygon points="523.22,383.77 523.22,383.17 525.82,381.97 525.82,448.5 523.82,449.7 523.22,449.7" fill="#9c5e1e"/>
<polygon points="519.82,383.77 519.82,383.17 521.82,381.97 525.82,381.97 523.82,383.17 523.82,383.77" fill="#b87424"/>
<rect x="519.82" y="383.17" width="4" height="66.53" fill="url(#gO)"/>
<text x="520.62" y="464.7" text-anchor="middle" class="xl">Mn</text>
<polygon points="531.36,449.3 531.36,448.7 533.96,447.5 533.96,448.5 531.96,449.7 531.36,449.7" fill="#9c5e1e"/>
<polygon points="527.96,449.3 527.96,448.7 529.96,447.5 533.96,447.5 531.96,448.7 531.96,449.3" fill="#b87424"/>
<rect x="527.96" y="448.7" width="4" height="1" fill="url(#gO)"/>
<text x="528.76" y="476.5" text-anchor="middle" class="xl">Fe</text>
<polygon points="539.5,446.11 539.5,445.5 542.1,444.31 542.1,448.5 540.1,449.7 539.5,449.7" fill="#9c5e1e"/>
<polygon points="536.1,446.11 536.1,445.5 538.1,444.31 542.1,444.31 540.1,445.5 540.1,446.11" fill="#b87424"/>
<rect x="536.1" y="445.5" width="4" height="4.19" fill="url(#gO)"/>
<text x="536.89" y="464.7" text-anchor="middle" class="xl">Ni</text>
<polygon points="547.63,409.34 547.63,408.74 550.23,407.54 550.23,448.5 548.23,449.7 547.63,449.7" fill="#9c5e1e"/>
<polygon points="544.23,409.34 544.23,408.74 546.23,407.54 550.23,407.54 548.23,408.74 548.23,409.34" fill="#b87424"/>
<rect x="544.23" y="408.74" width="4" height="40.96" fill="url(#gO)"/>
<text x="545.03" y="476.5" text-anchor="middle" class="xl">Zn</text>
<polygon points="555.76,425.33 555.76,424.73 558.37,423.53 558.37,448.5 556.37,449.7 555.76,449.7" fill="#9c5e1e"/>
<polygon points="552.37,425.33 552.37,424.73 554.37,423.53 558.37,423.53 556.37,424.73 556.37,425.33" fill="#b87424"/>
<rect x="552.37" y="424.73" width="4" height="24.97" fill="url(#gO)"/>
<text x="553.16" y="464.7" text-anchor="middle" class="xl">Cd</text>
<polygon points="563.9,414.14 563.9,413.54 566.5,412.34 566.5,448.5 564.5,449.7 563.9,449.7" fill="#9c5e1e"/>
<polygon points="560.5,414.14 560.5,413.54 562.5,412.34 566.5,412.34 564.5,413.54 564.5,414.14" fill="#b87424"/>
<rect x="560.5" y="413.54" width="4" height="36.16" fill="url(#gO)"/>
<text x="561.3" y="476.5" text-anchor="middle" class="xl">Hg</text>
<polygon points="572.03,441.31 572.03,440.71 574.63,439.51 574.63,448.5 572.63,449.7 572.03,449.7" fill="#5f3d82"/>
<polygon points="568.63,441.31 568.63,440.71 570.63,439.51 574.63,439.51 572.63,440.71 572.63,441.31" fill="#6b4891"/>
<rect x="568.63" y="440.71" width="4" height="8.99" fill="url(#gP)"/>
<text x="569.43" y="464.7" text-anchor="middle" class="xl">Sc</text>
<polygon points="580.17,434.92 580.17,434.32 582.77,433.12 582.77,448.5 580.77,449.7 580.17,449.7" fill="#5f3d82"/>
<polygon points="576.77,434.92 576.77,434.32 578.77,433.12 582.77,433.12 580.77,434.32 580.77,434.92" fill="#6b4891"/>
<rect x="576.77" y="434.32" width="4" height="15.38" fill="url(#gP)"/>
<text x="577.57" y="476.5" text-anchor="middle" class="xl">Y</text>
<polygon points="588.3,444.51 588.3,443.91 590.9,442.71 590.9,448.5 588.9,449.7 588.3,449.7" fill="#5f3d82"/>
<polygon points="584.9,444.51 584.9,443.91 586.9,442.71 590.9,442.71 588.9,443.91 588.9,444.51" fill="#6b4891"/>
<rect x="584.9" y="443.91" width="4" height="5.79" fill="url(#gP)"/>
<text x="585.7" y="464.7" text-anchor="middle" class="xl">La</text>
<polygon points="596.44,442.91 596.44,442.31 599.04,441.11 599.04,448.5 597.04,449.7 596.44,449.7" fill="#5f3d82"/>
<polygon points="593.04,442.91 593.04,442.31 595.04,441.11 599.04,441.11 597.04,442.31 597.04,442.91" fill="#6b4891"/>
<rect x="593.04" y="442.31" width="4" height="7.39" fill="url(#gP)"/>
<text x="593.84" y="476.5" text-anchor="middle" class="xl">Ce</text>
<polygon points="604.57,441.31 604.57,440.71 607.17,439.51 607.17,448.5 605.17,449.7 604.57,449.7" fill="#5f3d82"/>
<polygon points="601.17,441.31 601.17,440.71 603.17,439.51 607.17,439.51 605.17,440.71 605.17,441.31" fill="#6b4891"/>
<rect x="601.17" y="440.71" width="4" height="8.99" fill="url(#gP)"/>
<text x="601.97" y="464.7" text-anchor="middle" class="xl">Pr</text>
<polygon points="612.71,439.71 612.71,439.11 615.31,437.91 615.31,448.5 613.31,449.7 612.71,449.7" fill="#5f3d82"/>
<polygon points="609.31,439.71 609.31,439.11 611.31,437.91 615.31,437.91 613.31,439.11 613.31,439.71" fill="#6b4891"/>
<rect x="609.31" y="439.11" width="4" height="10.59" fill="url(#gP)"/>
<text x="610.11" y="476.5" text-anchor="middle" class="xl">Nd</text>
<polygon points="620.84,431.72 620.84,431.12 623.44,429.92 623.44,448.5 621.44,449.7 620.84,449.7" fill="#5f3d82"/>
<polygon points="617.44,431.72 617.44,431.12 619.44,429.92 623.44,429.92 621.44,431.12 621.44,431.72" fill="#6b4891"/>
<rect x="617.44" y="431.12" width="4" height="18.58" fill="url(#gP)"/>
<text x="618.24" y="464.7" text-anchor="middle" class="xl">Sm</text>
<polygon points="628.98,438.11 628.98,437.51 631.58,436.31 631.58,448.5 629.58,449.7 628.98,449.7" fill="#5f3d82"/>
<polygon points="625.58,438.11 625.58,437.51 627.58,436.31 631.58,436.31 629.58,437.51 629.58,438.11" fill="#6b4891"/>
<rect x="625.58" y="437.51" width="4" height="12.19" fill="url(#gP)"/>
<text x="626.38" y="476.5" text-anchor="middle" class="xl">Gd</text>
<polygon points="637.11,438.11 637.11,437.51 639.71,436.31 639.71,448.5 637.71,449.7 637.11,449.7" fill="#5f3d82"/>
<polygon points="633.71,438.11 633.71,437.51 635.71,436.31 639.71,436.31 637.71,437.51 637.71,438.11" fill="#6b4891"/>
<rect x="633.71" y="437.51" width="4" height="12.19" fill="url(#gP)"/>
<text x="634.51" y="464.7" text-anchor="middle" class="xl">Tb</text>
<polygon points="645.25,438.11 645.25,437.51 647.85,436.31 647.85,448.5 645.85,449.7 645.25,449.7" fill="#5f3d82"/>
<polygon points="641.85,438.11 641.85,437.51 643.85,436.31 647.85,436.31 645.85,437.51 645.85,438.11" fill="#6b4891"/>
<rect x="641.85" y="437.51" width="4" height="12.19" fill="url(#gP)"/>
<text x="642.65" y="476.5" text-anchor="middle" class="xl">Dy</text>
<polygon points="653.38,428.52 653.38,427.92 655.99,426.72 655.99,448.5 653.99,449.7 653.38,449.7" fill="#5f3d82"/>
<polygon points="649.99,428.52 649.99,427.92 651.99,426.72 655.99,426.72 653.99,427.92 653.99,428.52" fill="#6b4891"/>
<rect x="649.99" y="427.92" width="4" height="21.78" fill="url(#gP)"/>
<text x="650.78" y="464.7" text-anchor="middle" class="xl">Ho</text>
<polygon points="661.52,438.11 661.52,437.51 664.12,436.31 664.12,448.5 662.12,449.7 661.52,449.7" fill="#5f3d82"/>
<polygon points="658.12,438.11 658.12,437.51 660.12,436.31 664.12,436.31 662.12,437.51 662.12,438.11" fill="#6b4891"/>
<rect x="658.12" y="437.51" width="4" height="12.19" fill="url(#gP)"/>
<text x="658.92" y="476.5" text-anchor="middle" class="xl">Er</text>
<polygon points="669.65,439.71 669.65,439.11 672.25,437.91 672.25,448.5 670.25,449.7 669.65,449.7" fill="#5f3d82"/>
<polygon points="666.25,439.71 666.25,439.11 668.25,437.91 672.25,437.91 670.25,439.11 670.25,439.71" fill="#6b4891"/>
<rect x="666.25" y="439.11" width="4" height="10.59" fill="url(#gP)"/>
<text x="667.05" y="464.7" text-anchor="middle" class="xl">Tm</text>
<polygon points="677.79,438.11 677.79,437.51 680.39,436.31 680.39,448.5 678.39,449.7 677.79,449.7" fill="#5f3d82"/>
<polygon points="674.39,438.11 674.39,437.51 676.39,436.31 680.39,436.31 678.39,437.51 678.39,438.11" fill="#6b4891"/>
<rect x="674.39" y="437.51" width="4" height="12.19" fill="url(#gP)"/>
<text x="675.19" y="476.5" text-anchor="middle" class="xl">Lu</text>
<text transform="translate(9,155.8) rotate(-90)" class="yt" textLength="91.8" lengthAdjust="spacingAndGlyphs">No. of Compounds</text>
<text transform="translate(9.7,308) rotate(-90)" class="yt" textLength="93" lengthAdjust="spacingAndGlyphs">No. of Compounds</text>
<text transform="translate(12.6,461) rotate(-90)" class="yt" textLength="92" lengthAdjust="spacingAndGlyphs">No. of Compounds</text>
<rect x="43.5" y="69.5" width="12.5" height="11.5" fill="#000" opacity="0.28" filter="url(#sh)"/><polygon points="50.7,71.5 50.7,71 54,68 54,77 51.2,80 50.7,80" fill="#1160b8"/><polygon points="42,71.5 42,71 44.8,68 54,68 51.2,71 51.2,71.5" fill="#2a85dc"/><rect x="42" y="71" width="9.2" height="9" fill="#1470cc"/>
<rect x="43.7" y="86.3" width="12.1" height="10.5" fill="#000" opacity="0.28" filter="url(#sh)"/><polygon points="50.8,88.1 50.8,87.6 53.8,84.8 53.8,93 51.3,95.8 50.8,95.8" fill="#e08530"/><polygon points="42.2,88.1 42.2,87.6 44.7,84.8 53.8,84.8 51.3,87.6 51.3,88.1" fill="#f9aa55"/><rect x="42.2" y="87.6" width="9.1" height="8.2" fill="#f89a3c"/>
<rect x="43.7" y="101.6" width="12.2" height="10.4" fill="#000" opacity="0.28" filter="url(#sh)"/><polygon points="51,103.3 51,102.8 53.9,100.1 53.9,108.3 51.5,111 51,111" fill="#8a2ed2"/><polygon points="42.2,103.3 42.2,102.8 44.6,100.1 53.9,100.1 51.5,102.8 51.5,103.3" fill="#b256f5"/><rect x="42.2" y="102.8" width="9.3" height="8.2" fill="#a23cf0"/>
<text x="57.9" y="79.8" class="lg" textLength="8.4" lengthAdjust="spacingAndGlyphs">A</text>
<text x="57.1" y="94.7" class="lg" textLength="11.4" lengthAdjust="spacingAndGlyphs">M</text>
<text x="57.1" y="109.5" class="lg">M<tspan font-weight="bold">’</tspan></text>
</svg>
</body></html>
